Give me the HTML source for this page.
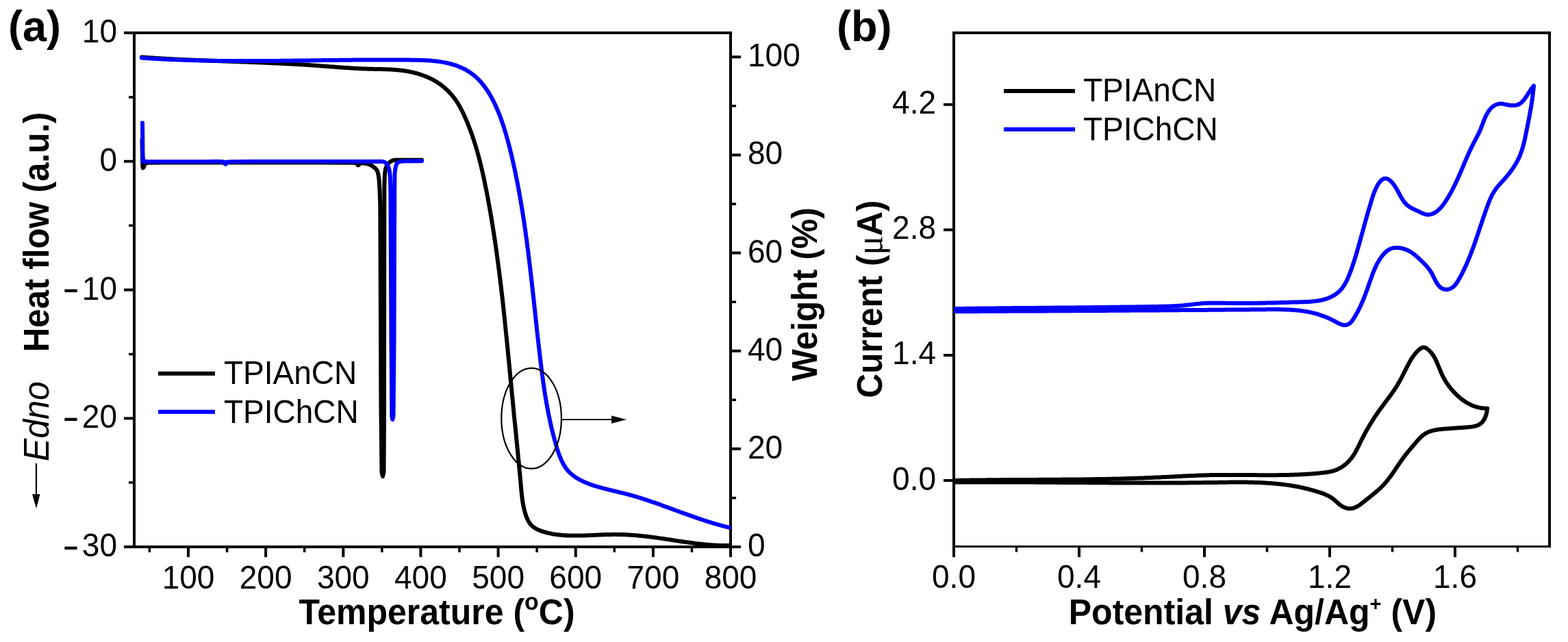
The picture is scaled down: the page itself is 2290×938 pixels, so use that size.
<!DOCTYPE html>
<html><head><meta charset="utf-8"><title>Figure</title>
<style>
html,body{margin:0;padding:0;background:#fff;}
svg{display:block;}
.minus{font-size:46px;}
</style></head><body>
<svg width="2290" height="938" viewBox="0 0 2290 938">
<rect width="2290" height="938" fill="#fff"/>
<g stroke="#000" stroke-width="4" fill="none" stroke-linecap="butt">
<path d="M181 48 H1067 M196 46 V801 M181 799 H1082 M1067 46 V814"/>
</g>
<path stroke="#000" stroke-width="4" d="M275.0 801 V814 M388.1 801 V814 M501.3 801 V814 M614.4 801 V814 M727.6 801 V814 M840.7 801 V814 M953.9 801 V814 M1067.0 801 V814"/>
<path stroke="#000" stroke-width="3.5" d="M218.4 801 V807 M331.6 801 V807 M444.7 801 V807 M557.9 801 V807 M671.0 801 V807 M784.1 801 V807 M897.3 801 V807 M1010.4 801 V807"/>
<path stroke="#000" stroke-width="4" d="M181 48.00 H194 M181 235.75 H194 M181 423.50 H194 M181 611.25 H194 M181 799.00 H194"/>
<path stroke="#000" stroke-width="3.5" d="M188 141.88 H194 M188 329.62 H194 M188 517.38 H194 M188 705.12 H194"/>
<path stroke="#000" stroke-width="4" d="M1069 799.00 H1082 M1069 655.86 H1082 M1069 512.72 H1082 M1069 369.58 H1082 M1069 226.44 H1082 M1069 83.30 H1082"/>
<path stroke="#000" stroke-width="3.5" d="M1069 727.43 H1075 M1069 584.29 H1075 M1069 441.15 H1075 M1069 298.01 H1075 M1069 154.87 H1075"/>
<g font-family="Liberation Sans, Arial, sans-serif" font-size="46" fill="#000">
<text transform="translate(275.0 860) scale(1 1.04)" text-anchor="middle">100</text>
<text transform="translate(388.1 860) scale(1 1.04)" text-anchor="middle">200</text>
<text transform="translate(501.3 860) scale(1 1.04)" text-anchor="middle">300</text>
<text transform="translate(614.4 860) scale(1 1.04)" text-anchor="middle">400</text>
<text transform="translate(727.6 860) scale(1 1.04)" text-anchor="middle">500</text>
<text transform="translate(840.7 860) scale(1 1.04)" text-anchor="middle">600</text>
<text transform="translate(953.9 860) scale(1 1.04)" text-anchor="middle">700</text>
<text transform="translate(1067.0 860) scale(1 1.04)" text-anchor="middle">800</text>
<text transform="translate(171 62.0) scale(1 1.04)" text-anchor="end">10</text>
<text transform="translate(171 249.8) scale(1 1.04)" text-anchor="end">0</text>
<text transform="translate(171 437.5) scale(1 1.04)" text-anchor="end">10</text>
<text transform="translate(92.4 445.00) scale(0.818 1.33)">&#8722;</text>
<text transform="translate(171 625.2) scale(1 1.04)" text-anchor="end">20</text>
<text transform="translate(92.4 632.75) scale(0.818 1.33)">&#8722;</text>
<text transform="translate(171 813.0) scale(1 1.04)" text-anchor="end">30</text>
<text transform="translate(92.4 820.50) scale(0.818 1.33)">&#8722;</text>
<text transform="translate(1092 813.0) scale(1 1.04)">0</text>
<text transform="translate(1092 669.9) scale(1 1.04)">20</text>
<text transform="translate(1092 526.7) scale(1 1.04)">40</text>
<text transform="translate(1092 383.6) scale(1 1.04)">60</text>
<text transform="translate(1092 240.4) scale(1 1.04)">80</text>
<text transform="translate(1092 97.3) scale(1 1.04)">100</text>
</g>
<text transform="translate(638 912) scale(1 1.04)" text-anchor="middle" font-family="Liberation Sans, Arial, sans-serif" font-weight="bold" font-size="50">Temperature (<tspan font-size="34" dy="-20">o</tspan><tspan dy="20">C)</tspan></text>
<text transform="translate(71 339) rotate(-90) scale(1 1.04)" text-anchor="middle" font-family="Liberation Sans, Arial, sans-serif" font-weight="bold" font-size="49.3">Heat flow (a.u.)</text>
<text transform="translate(1193 430) rotate(-90) scale(1 1.04)" text-anchor="middle" font-family="Liberation Sans, Arial, sans-serif" font-weight="bold" font-size="49.3">Weight (%)</text>
<text transform="translate(70.5 615.6) rotate(-90) scale(1 1.04)" text-anchor="middle" font-family="Liberation Sans, Arial, sans-serif" font-style="italic" font-size="50">Edno</text>
<path d="M53 677 V724" stroke="#000" stroke-width="2.2"/>
<path d="M47 722 L58.5 722 L53 743 Z" fill="#000"/>
<text x="12" y="60" font-family="Liberation Sans, Arial, sans-serif" font-weight="bold" font-size="63">(a)</text>
<path d="M231 545.8 H314" stroke="#000" stroke-width="6"/>
<path d="M231 601.8 H314" stroke="#0000ff" stroke-width="6"/>
<g font-family="Liberation Sans, Arial, sans-serif" font-size="46">
<text transform="translate(327 561) scale(1 1.04)">TPIAnCN</text>
<text transform="translate(327 618) scale(1 1.04)">TPIChCN</text>
</g>
<g fill="none" stroke-linejoin="round" stroke-linecap="round" stroke-width="6">
<path stroke="#000" d="M207.0 83.5 L208.5 83.6 L210.0 83.7 L211.5 83.8 L213.0 83.9 L214.5 84.0 L216.0 84.1 L217.5 84.2 L219.0 84.3 L220.5 84.4 L222.0 84.5 L223.5 84.6 L225.0 84.7 L226.5 84.8 L228.0 84.9 L229.5 85.0 L231.0 85.1 L232.5 85.2 L234.0 85.3 L235.5 85.4 L237.0 85.5 L238.5 85.6 L240.0 85.6 L241.5 85.7 L243.0 85.8 L244.5 85.9 L246.0 86.0 L247.5 86.1 L249.0 86.1 L250.5 86.2 L252.0 86.3 L253.5 86.4 L255.0 86.4 L256.5 86.5 L258.0 86.6 L259.5 86.7 L261.0 86.7 L262.5 86.8 L264.0 86.9 L265.5 87.0 L267.0 87.0 L268.5 87.1 L270.0 87.2 L271.5 87.2 L273.0 87.3 L274.5 87.4 L276.0 87.4 L277.5 87.5 L279.0 87.6 L280.5 87.6 L282.0 87.7 L283.5 87.8 L285.0 87.8 L286.5 87.9 L288.0 88.0 L289.5 88.0 L291.0 88.1 L292.5 88.1 L294.0 88.2 L295.5 88.3 L297.0 88.3 L298.5 88.4 L300.0 88.4 L301.5 88.5 L303.0 88.6 L304.5 88.6 L306.0 88.7 L307.5 88.7 L309.0 88.8 L310.5 88.8 L312.0 88.9 L313.5 88.9 L315.0 89.0 L316.5 89.1 L318.0 89.1 L319.5 89.2 L321.0 89.2 L322.6 89.3 L324.1 89.3 L325.6 89.4 L327.1 89.4 L328.6 89.5 L330.1 89.6 L331.6 89.6 L333.1 89.7 L334.6 89.7 L336.1 89.8 L337.6 89.8 L339.1 89.9 L340.6 89.9 L342.1 90.0 L343.6 90.0 L345.1 90.1 L346.6 90.1 L348.1 90.2 L349.6 90.3 L351.1 90.3 L352.6 90.4 L354.1 90.4 L355.6 90.5 L357.1 90.5 L358.6 90.6 L360.1 90.6 L361.6 90.7 L363.1 90.8 L364.6 90.8 L366.1 90.9 L367.6 90.9 L369.1 91.0 L370.6 91.0 L372.1 91.1 L373.6 91.2 L375.1 91.2 L376.6 91.3 L378.1 91.3 L379.6 91.4 L381.1 91.5 L382.6 91.5 L384.1 91.6 L385.6 91.6 L387.1 91.7 L388.6 91.8 L390.1 91.8 L391.6 91.9 L393.1 92.0 L394.6 92.0 L396.1 92.1 L397.6 92.2 L399.1 92.2 L400.6 92.3 L402.1 92.4 L403.6 92.4 L405.1 92.5 L406.6 92.6 L408.1 92.6 L409.6 92.7 L411.1 92.8 L412.6 92.9 L414.1 92.9 L415.6 93.0 L417.1 93.1 L418.6 93.2 L420.1 93.2 L421.6 93.3 L423.1 93.4 L424.6 93.5 L426.1 93.6 L427.6 93.6 L429.1 93.7 L430.6 93.8 L432.1 93.9 L433.6 94.0 L435.1 94.1 L436.6 94.2 L438.1 94.2 L439.6 94.3 L441.1 94.4 L442.6 94.5 L444.1 94.6 L445.6 94.7 L447.1 94.8 L448.6 94.9 L450.1 95.0 L451.6 95.1 L453.1 95.2 L454.6 95.3 L456.1 95.4 L457.6 95.5 L459.1 95.6 L460.6 95.7 L462.1 95.8 L463.6 95.9 L465.1 96.0 L466.6 96.1 L468.1 96.3 L469.6 96.4 L471.1 96.5 L472.6 96.6 L474.1 96.7 L475.6 96.8 L477.1 96.9 L478.6 97.0 L480.1 97.2 L481.6 97.3 L483.1 97.4 L484.6 97.5 L486.1 97.6 L487.6 97.7 L489.1 97.8 L490.6 97.9 L492.1 98.1 L493.6 98.2 L495.1 98.3 L496.6 98.4 L498.1 98.5 L499.6 98.6 L501.1 98.7 L502.6 98.8 L504.1 98.9 L505.6 99.0 L507.0 99.1 L508.5 99.2 L510.0 99.3 L511.5 99.4 L513.0 99.5 L514.5 99.6 L516.0 99.7 L517.5 99.8 L519.0 99.9 L520.5 99.9 L522.0 100.0 L523.5 100.1 L525.0 100.2 L526.5 100.2 L528.0 100.3 L529.5 100.4 L531.0 100.4 L532.5 100.5 L534.0 100.5 L535.5 100.6 L537.0 100.7 L538.5 100.7 L540.0 100.7 L541.5 100.8 L543.0 100.8 L544.5 100.8 L546.0 100.9 L547.5 100.9 L549.0 100.9 L550.5 101.0 L552.0 101.0 L553.5 101.0 L555.0 101.1 L556.5 101.1 L558.0 101.1 L559.5 101.2 L561.0 101.2 L562.5 101.2 L564.0 101.3 L565.5 101.3 L567.0 101.4 L568.5 101.5 L570.0 101.5 L571.5 101.6 L573.0 101.7 L574.5 101.8 L576.0 101.9 L577.5 102.0 L579.0 102.1 L580.5 102.3 L582.0 102.4 L583.5 102.5 L585.0 102.7 L586.5 102.9 L588.0 103.1 L589.5 103.3 L591.0 103.5 L592.5 103.7 L594.0 104.0 L595.4 104.2 L596.9 104.5 L598.4 104.8 L599.9 105.1 L601.4 105.4 L602.9 105.7 L604.3 106.1 L605.8 106.5 L607.3 106.8 L608.7 107.2 L610.2 107.7 L611.6 108.1 L613.1 108.5 L614.5 109.0 L615.9 109.5 L617.4 110.0 L618.8 110.5 L620.2 111.0 L621.6 111.6 L623.0 112.1 L624.3 112.7 L625.7 113.3 L627.1 114.0 L628.4 114.6 L629.8 115.3 L631.1 115.9 L632.4 116.6 L633.7 117.4 L635.0 118.1 L636.3 118.8 L637.6 119.6 L638.9 120.4 L640.1 121.2 L641.3 122.1 L642.6 122.9 L643.8 123.8 L645.0 124.7 L646.1 125.6 L647.3 126.6 L648.4 127.5 L649.6 128.5 L650.7 129.5 L651.8 130.5 L652.9 131.5 L654.0 132.5 L655.0 133.6 L656.1 134.7 L657.1 135.8 L658.1 136.9 L659.1 138.0 L660.1 139.1 L661.0 140.3 L662.0 141.5 L662.9 142.6 L663.8 143.8 L664.7 145.0 L665.6 146.3 L666.4 147.5 L667.2 148.8 L668.1 150.0 L668.9 151.3 L669.7 152.6 L670.4 153.9 L671.2 155.2 L671.9 156.5 L672.6 157.8 L673.3 159.2 L674.0 160.5 L674.7 161.9 L675.4 163.2 L676.0 164.6 L676.7 166.0 L677.3 167.3 L678.0 168.7 L678.6 170.1 L679.2 171.5 L679.8 172.8 L680.4 174.2 L681.0 175.6 L681.6 177.0 L682.2 178.4 L682.8 179.8 L683.3 181.2 L683.9 182.6 L684.4 184.0 L685.0 185.4 L685.5 186.8 L686.1 188.2 L686.6 189.6 L687.1 191.0 L687.7 192.4 L688.2 193.8 L688.7 195.2 L689.2 196.6 L689.7 198.1 L690.2 199.5 L690.6 200.9 L691.1 202.3 L691.6 203.7 L692.1 205.2 L692.5 206.6 L693.0 208.0 L693.4 209.4 L693.9 210.9 L694.3 212.3 L694.8 213.7 L695.2 215.2 L695.6 216.6 L696.0 218.1 L696.5 219.5 L696.9 220.9 L697.3 222.4 L697.7 223.8 L698.1 225.3 L698.5 226.7 L698.9 228.2 L699.3 229.6 L699.6 231.1 L700.0 232.5 L700.4 234.0 L700.8 235.4 L701.1 236.9 L701.5 238.3 L701.9 239.8 L702.2 241.2 L702.6 242.7 L702.9 244.2 L703.3 245.6 L703.6 247.1 L704.0 248.5 L704.3 250.0 L704.6 251.5 L705.0 252.9 L705.3 254.4 L705.6 255.9 L705.9 257.3 L706.3 258.8 L706.6 260.3 L706.9 261.7 L707.2 263.2 L707.5 264.7 L707.8 266.1 L708.1 267.6 L708.4 269.1 L708.7 270.6 L709.0 272.0 L709.3 273.5 L709.6 275.0 L709.9 276.4 L710.2 277.9 L710.5 279.4 L710.8 280.9 L711.1 282.3 L711.3 283.8 L711.6 285.3 L711.9 286.8 L712.2 288.2 L712.5 289.7 L712.7 291.2 L713.0 292.7 L713.3 294.1 L713.6 295.6 L713.8 297.1 L714.1 298.6 L714.4 300.1 L714.6 301.5 L714.9 303.0 L715.2 304.5 L715.4 306.0 L715.7 307.5 L715.9 308.9 L716.2 310.4 L716.4 311.9 L716.7 313.4 L717.0 314.9 L717.2 316.3 L717.5 317.8 L717.7 319.3 L718.0 320.8 L718.2 322.3 L718.4 323.7 L718.7 325.2 L718.9 326.7 L719.2 328.2 L719.4 329.7 L719.6 331.2 L719.9 332.6 L720.1 334.1 L720.4 335.6 L720.6 337.1 L720.8 338.6 L721.1 340.1 L721.3 341.5 L721.5 343.0 L721.7 344.5 L722.0 346.0 L722.2 347.5 L722.4 349.0 L722.6 350.5 L722.9 351.9 L723.1 353.4 L723.3 354.9 L723.5 356.4 L723.7 357.9 L723.9 359.4 L724.2 360.9 L724.4 362.3 L724.6 363.8 L724.8 365.3 L725.0 366.8 L725.2 368.3 L725.4 369.8 L725.6 371.3 L725.8 372.8 L726.0 374.3 L726.2 375.7 L726.4 377.2 L726.6 378.7 L726.8 380.2 L727.0 381.7 L727.2 383.2 L727.4 384.7 L727.6 386.2 L727.8 387.7 L728.0 389.2 L728.2 390.6 L728.4 392.1 L728.6 393.6 L728.8 395.1 L729.0 396.6 L729.2 398.1 L729.4 399.6 L729.5 401.1 L729.7 402.6 L729.9 404.1 L730.1 405.6 L730.3 407.1 L730.5 408.5 L730.6 410.0 L730.8 411.5 L731.0 413.0 L731.2 414.5 L731.4 416.0 L731.5 417.5 L731.7 419.0 L731.9 420.5 L732.1 422.0 L732.2 423.5 L732.4 425.0 L732.6 426.5 L732.8 428.0 L732.9 429.4 L733.1 430.9 L733.3 432.4 L733.5 433.9 L733.6 435.4 L733.8 436.9 L734.0 438.4 L734.1 439.9 L734.3 441.4 L734.5 442.9 L734.6 444.4 L734.8 445.9 L735.0 447.4 L735.1 448.9 L735.3 450.4 L735.4 451.9 L735.6 453.4 L735.8 454.9 L735.9 456.4 L736.1 457.8 L736.2 459.3 L736.4 460.8 L736.6 462.3 L736.7 463.8 L736.9 465.3 L737.0 466.8 L737.2 468.3 L737.3 469.8 L737.5 471.3 L737.7 472.8 L737.8 474.3 L738.0 475.8 L738.1 477.3 L738.3 478.8 L738.4 480.3 L738.6 481.8 L738.7 483.3 L738.9 484.8 L739.0 486.3 L739.2 487.8 L739.3 489.3 L739.5 490.8 L739.6 492.2 L739.8 493.7 L739.9 495.2 L740.1 496.7 L740.2 498.2 L740.4 499.7 L740.5 501.2 L740.7 502.7 L740.8 504.2 L741.0 505.7 L741.1 507.2 L741.3 508.7 L741.4 510.2 L741.6 511.7 L741.7 513.2 L741.9 514.7 L742.0 516.2 L742.2 517.7 L742.3 519.2 L742.4 520.7 L742.6 522.2 L742.7 523.7 L742.9 525.2 L743.0 526.7 L743.2 528.2 L743.3 529.6 L743.5 531.1 L743.6 532.6 L743.7 534.1 L743.9 535.6 L744.0 537.1 L744.2 538.6 L744.3 540.1 L744.5 541.6 L744.6 543.1 L744.8 544.6 L744.9 546.1 L745.0 547.6 L745.2 549.1 L745.3 550.6 L745.5 552.1 L745.6 553.6 L745.8 555.1 L745.9 556.6 L746.1 558.1 L746.2 559.5 L746.3 561.0 L746.5 562.5 L746.6 564.0 L746.8 565.5 L746.9 567.0 L747.1 568.5 L747.2 570.0 L747.4 571.5 L747.5 573.0 L747.6 574.5 L747.8 576.0 L747.9 577.5 L748.1 579.0 L748.2 580.5 L748.4 581.9 L748.5 583.4 L748.7 584.9 L748.8 586.4 L749.0 587.9 L749.1 589.4 L749.3 590.9 L749.4 592.4 L749.6 593.9 L749.7 595.4 L749.8 596.9 L750.0 598.4 L750.1 599.9 L750.3 601.3 L750.4 602.8 L750.6 604.3 L750.7 605.8 L750.9 607.3 L751.0 608.8 L751.2 610.3 L751.3 611.8 L751.5 613.3 L751.6 614.8 L751.8 616.3 L751.9 617.8 L752.1 619.3 L752.2 620.7 L752.4 622.2 L752.5 623.7 L752.7 625.2 L752.8 626.7 L753.0 628.2 L753.1 629.7 L753.3 631.2 L753.4 632.7 L753.6 634.2 L753.7 635.7 L753.9 637.2 L754.0 638.7 L754.2 640.1 L754.3 641.6 L754.4 643.1 L754.6 644.6 L754.7 646.1 L754.9 647.6 L755.0 649.1 L755.2 650.6 L755.3 652.1 L755.5 653.6 L755.6 655.1 L755.8 656.6 L755.9 658.1 L756.1 659.6 L756.2 661.1 L756.4 662.6 L756.5 664.1 L756.6 665.6 L756.8 667.1 L756.9 668.6 L757.1 670.0 L757.2 671.5 L757.4 673.0 L757.5 674.5 L757.7 676.0 L757.8 677.5 L757.9 679.0 L758.1 680.5 L758.2 682.0 L758.4 683.5 L758.5 685.0 L758.6 686.5 L758.8 688.0 L758.9 689.5 L759.1 691.0 L759.2 692.5 L759.3 694.0 L759.5 695.5 L759.6 697.0 L759.8 698.5 L759.9 700.1 L760.0 701.6 L760.2 703.1 L760.3 704.6 L760.4 706.1 L760.6 707.6 L760.7 709.1 L760.8 710.6 L761.0 712.1 L761.1 713.6 L761.2 715.1 L761.4 716.6 L761.5 718.1 L761.7 719.6 L761.8 721.1 L762.0 722.6 L762.2 724.1 L762.3 725.6 L762.5 727.1 L762.7 728.6 L762.9 730.1 L763.1 731.6 L763.3 733.1 L763.6 734.6 L763.8 736.1 L764.1 737.6 L764.4 739.0 L764.7 740.5 L765.0 742.0 L765.3 743.4 L765.7 744.9 L766.1 746.4 L766.5 747.8 L766.9 749.3 L767.3 750.7 L767.8 752.2 L768.3 753.6 L768.8 755.0 L769.3 756.4 L769.9 757.8 L770.6 759.1 L771.2 760.4 L771.9 761.7 L772.7 763.0 L773.5 764.2 L774.3 765.3 L775.2 766.4 L776.2 767.5 L777.2 768.5 L778.3 769.4 L779.4 770.3 L780.6 771.1 L781.8 771.9 L783.1 772.6 L784.4 773.3 L785.8 773.9 L787.1 774.5 L788.5 775.1 L789.9 775.6 L791.4 776.1 L792.8 776.6 L794.3 777.0 L795.7 777.5 L797.2 777.9 L798.6 778.3 L800.1 778.6 L801.6 779.0 L803.1 779.3 L804.5 779.6 L806.0 779.9 L807.5 780.2 L809.0 780.4 L810.5 780.7 L812.0 780.9 L813.5 781.1 L815.0 781.3 L816.5 781.5 L818.0 781.6 L819.6 781.8 L821.1 781.9 L822.6 782.0 L824.1 782.1 L825.6 782.2 L827.1 782.3 L828.7 782.4 L830.2 782.4 L831.7 782.5 L833.2 782.5 L834.7 782.6 L836.2 782.6 L837.8 782.6 L839.3 782.6 L840.8 782.6 L842.3 782.6 L843.8 782.6 L845.3 782.6 L846.8 782.6 L848.3 782.5 L849.8 782.5 L851.3 782.5 L852.8 782.4 L854.3 782.4 L855.8 782.3 L857.3 782.3 L858.8 782.2 L860.3 782.1 L861.8 782.1 L863.3 782.0 L864.8 781.9 L866.3 781.9 L867.8 781.8 L869.3 781.7 L870.8 781.7 L872.3 781.6 L873.7 781.5 L875.2 781.5 L876.7 781.4 L878.2 781.3 L879.7 781.3 L881.2 781.2 L882.7 781.2 L884.2 781.1 L885.7 781.1 L887.2 781.0 L888.6 781.0 L890.1 780.9 L891.6 780.9 L893.1 780.9 L894.6 780.9 L896.1 780.8 L897.6 780.8 L899.1 780.8 L900.6 780.8 L902.1 780.9 L903.6 780.9 L905.1 780.9 L906.6 780.9 L908.1 781.0 L909.6 781.0 L911.1 781.1 L912.6 781.1 L914.1 781.2 L915.6 781.3 L917.1 781.4 L918.6 781.5 L920.1 781.6 L921.6 781.7 L923.1 781.8 L924.6 781.9 L926.1 782.0 L927.6 782.1 L929.1 782.2 L930.6 782.4 L932.1 782.5 L933.6 782.7 L935.1 782.8 L936.6 783.0 L938.1 783.1 L939.6 783.3 L941.1 783.4 L942.6 783.6 L944.1 783.8 L945.6 784.0 L947.1 784.2 L948.6 784.3 L950.1 784.5 L951.6 784.7 L953.1 784.9 L954.6 785.1 L956.1 785.3 L957.6 785.5 L959.1 785.7 L960.6 785.9 L962.1 786.1 L963.6 786.4 L965.0 786.6 L966.5 786.8 L968.0 787.0 L969.5 787.2 L971.0 787.4 L972.5 787.7 L974.0 787.9 L975.5 788.1 L976.9 788.3 L978.4 788.6 L979.9 788.8 L981.4 789.0 L982.9 789.2 L984.4 789.5 L985.9 789.7 L987.3 789.9 L988.8 790.2 L990.3 790.4 L991.8 790.6 L993.3 790.8 L994.8 791.0 L996.2 791.3 L997.7 791.5 L999.2 791.7 L1000.7 791.9 L1002.2 792.1 L1003.7 792.3 L1005.1 792.5 L1006.6 792.7 L1008.1 793.0 L1009.6 793.1 L1011.1 793.3 L1012.6 793.5 L1014.0 793.7 L1015.5 793.9 L1017.0 794.1 L1018.5 794.3 L1020.0 794.5 L1021.5 794.6 L1023.0 794.8 L1024.5 795.0 L1026.0 795.1 L1027.4 795.3 L1028.9 795.4 L1030.4 795.6 L1031.9 795.7 L1033.4 795.8 L1034.9 796.0 L1036.4 796.1 L1037.9 796.2 L1039.4 796.3 L1040.9 796.4 L1042.4 796.5 L1043.9 796.6 L1045.4 796.7 L1046.9 796.7 L1048.4 796.8 L1049.9 796.9 L1051.4 796.9 L1052.9 797.0 L1054.4 797.0 L1055.9 797.0 L1057.5 797.1 L1059.0 797.1 L1060.5 797.1 L1062.0 797.1 L1063.5 797.1 L1065.0 797.1"/>
<path stroke="#0000ff" d="M207.0 84.6 L208.5 84.7 L210.0 84.8 L211.5 84.9 L213.0 85.0 L214.5 85.1 L216.0 85.2 L217.5 85.3 L219.0 85.4 L220.5 85.5 L222.0 85.6 L223.5 85.7 L225.0 85.7 L226.5 85.8 L228.0 85.9 L229.5 86.0 L231.0 86.1 L232.5 86.2 L234.0 86.2 L235.5 86.3 L237.0 86.4 L238.5 86.5 L240.0 86.5 L241.5 86.6 L243.0 86.7 L244.5 86.8 L246.0 86.8 L247.5 86.9 L249.0 87.0 L250.5 87.0 L252.0 87.1 L253.5 87.2 L255.0 87.2 L256.5 87.3 L258.0 87.3 L259.5 87.4 L261.0 87.5 L262.5 87.5 L264.0 87.6 L265.5 87.6 L267.0 87.7 L268.5 87.7 L270.0 87.8 L271.5 87.8 L273.0 87.9 L274.5 87.9 L276.0 88.0 L277.5 88.0 L279.0 88.1 L280.5 88.1 L282.0 88.1 L283.5 88.2 L285.0 88.2 L286.5 88.3 L288.0 88.3 L289.5 88.3 L291.0 88.4 L292.5 88.4 L294.0 88.4 L295.5 88.5 L297.0 88.5 L298.5 88.5 L300.0 88.6 L301.5 88.6 L303.0 88.6 L304.5 88.7 L306.0 88.7 L307.5 88.7 L309.1 88.7 L310.6 88.8 L312.1 88.8 L313.6 88.8 L315.1 88.8 L316.6 88.8 L318.1 88.9 L319.6 88.9 L321.1 88.9 L322.6 88.9 L324.1 88.9 L325.6 88.9 L327.1 89.0 L328.6 89.0 L330.1 89.0 L331.6 89.0 L333.1 89.0 L334.6 89.0 L336.1 89.0 L337.6 89.0 L339.1 89.1 L340.6 89.1 L342.1 89.1 L343.6 89.1 L345.1 89.1 L346.6 89.1 L348.1 89.1 L349.6 89.1 L351.1 89.1 L352.6 89.1 L354.1 89.1 L355.6 89.1 L357.1 89.1 L358.6 89.1 L360.1 89.1 L361.6 89.1 L363.1 89.1 L364.6 89.1 L366.1 89.1 L367.6 89.1 L369.1 89.1 L370.6 89.1 L372.1 89.1 L373.6 89.1 L375.1 89.1 L376.7 89.1 L378.2 89.1 L379.7 89.1 L381.2 89.1 L382.7 89.0 L384.2 89.0 L385.7 89.0 L387.2 89.0 L388.7 89.0 L390.2 89.0 L391.7 89.0 L393.2 89.0 L394.7 89.0 L396.2 89.0 L397.7 88.9 L399.2 88.9 L400.7 88.9 L402.2 88.9 L403.7 88.9 L405.2 88.9 L406.7 88.9 L408.2 88.9 L409.7 88.8 L411.2 88.8 L412.7 88.8 L414.2 88.8 L415.7 88.8 L417.2 88.8 L418.7 88.8 L420.2 88.7 L421.7 88.7 L423.2 88.7 L424.7 88.7 L426.2 88.7 L427.7 88.7 L429.2 88.6 L430.7 88.6 L432.2 88.6 L433.8 88.6 L435.3 88.6 L436.8 88.5 L438.3 88.5 L439.8 88.5 L441.3 88.5 L442.8 88.5 L444.3 88.5 L445.8 88.4 L447.3 88.4 L448.8 88.4 L450.3 88.4 L451.8 88.4 L453.3 88.3 L454.8 88.3 L456.3 88.3 L457.8 88.3 L459.3 88.3 L460.8 88.2 L462.3 88.2 L463.8 88.2 L465.3 88.2 L466.8 88.2 L468.3 88.2 L469.8 88.1 L471.3 88.1 L472.8 88.1 L474.3 88.1 L475.8 88.1 L477.3 88.0 L478.8 88.0 L480.3 88.0 L481.8 88.0 L483.3 88.0 L484.8 88.0 L486.3 87.9 L487.8 87.9 L489.3 87.9 L490.8 87.9 L492.4 87.9 L493.9 87.9 L495.4 87.8 L496.9 87.8 L498.4 87.8 L499.9 87.8 L501.4 87.8 L502.9 87.8 L504.4 87.7 L505.9 87.7 L507.4 87.7 L508.9 87.7 L510.4 87.7 L511.9 87.7 L513.4 87.7 L514.9 87.6 L516.4 87.6 L517.9 87.6 L519.4 87.6 L520.9 87.6 L522.4 87.6 L523.9 87.6 L525.4 87.6 L526.9 87.6 L528.4 87.5 L529.9 87.5 L531.4 87.5 L532.9 87.5 L534.4 87.5 L535.9 87.5 L537.4 87.5 L538.9 87.5 L540.4 87.5 L541.9 87.5 L543.4 87.5 L544.9 87.5 L546.4 87.5 L547.9 87.5 L549.4 87.5 L550.9 87.5 L552.4 87.5 L553.9 87.5 L555.4 87.4 L556.9 87.4 L558.4 87.4 L559.9 87.4 L561.4 87.4 L562.9 87.4 L564.4 87.5 L565.9 87.5 L567.4 87.5 L568.9 87.5 L570.4 87.5 L572.0 87.5 L573.5 87.5 L575.0 87.5 L576.5 87.5 L578.0 87.5 L579.5 87.5 L581.0 87.5 L582.5 87.5 L584.0 87.5 L585.5 87.5 L587.0 87.5 L588.5 87.5 L590.0 87.6 L591.5 87.6 L593.0 87.6 L594.5 87.6 L596.0 87.6 L597.5 87.6 L599.0 87.6 L600.5 87.7 L602.0 87.7 L603.5 87.7 L605.0 87.7 L606.5 87.7 L608.0 87.8 L609.5 87.8 L611.0 87.8 L612.5 87.8 L614.0 87.9 L615.5 87.9 L617.0 88.0 L618.5 88.0 L620.0 88.1 L621.5 88.2 L623.0 88.2 L624.5 88.3 L626.0 88.4 L627.5 88.5 L629.0 88.6 L630.5 88.8 L632.0 88.9 L633.5 89.0 L635.0 89.2 L636.5 89.3 L638.0 89.5 L639.5 89.7 L641.0 89.9 L642.5 90.1 L644.0 90.4 L645.5 90.6 L646.9 90.9 L648.4 91.1 L649.9 91.4 L651.4 91.7 L652.9 92.0 L654.4 92.4 L655.9 92.7 L657.3 93.1 L658.8 93.5 L660.2 93.9 L661.7 94.3 L663.1 94.8 L664.6 95.2 L666.0 95.7 L667.4 96.2 L668.8 96.8 L670.2 97.3 L671.6 97.9 L673.0 98.4 L674.4 99.1 L675.7 99.7 L677.1 100.3 L678.4 101.0 L679.7 101.7 L681.0 102.4 L682.3 103.2 L683.6 104.0 L684.8 104.8 L686.1 105.6 L687.3 106.4 L688.5 107.3 L689.7 108.2 L690.9 109.1 L692.0 110.0 L693.2 110.9 L694.3 111.9 L695.4 112.9 L696.5 113.9 L697.6 114.9 L698.7 116.0 L699.7 117.0 L700.7 118.1 L701.7 119.2 L702.7 120.3 L703.7 121.5 L704.6 122.6 L705.6 123.8 L706.5 125.0 L707.4 126.2 L708.3 127.4 L709.2 128.6 L710.0 129.8 L710.9 131.1 L711.7 132.3 L712.5 133.6 L713.4 134.8 L714.1 136.1 L714.9 137.4 L715.7 138.7 L716.5 140.0 L717.2 141.3 L717.9 142.6 L718.6 143.9 L719.4 145.3 L720.1 146.6 L720.7 148.0 L721.4 149.3 L722.1 150.7 L722.7 152.0 L723.4 153.4 L724.0 154.8 L724.6 156.2 L725.2 157.6 L725.8 158.9 L726.4 160.3 L727.0 161.7 L727.6 163.1 L728.2 164.5 L728.7 165.9 L729.3 167.3 L729.8 168.8 L730.4 170.2 L730.9 171.6 L731.4 173.0 L731.9 174.4 L732.4 175.8 L732.9 177.2 L733.4 178.7 L733.9 180.1 L734.4 181.5 L734.9 182.9 L735.3 184.4 L735.8 185.8 L736.3 187.2 L736.7 188.6 L737.2 190.1 L737.6 191.5 L738.0 192.9 L738.5 194.4 L738.9 195.8 L739.3 197.2 L739.7 198.7 L740.1 200.1 L740.5 201.6 L740.9 203.0 L741.3 204.4 L741.7 205.9 L742.1 207.3 L742.5 208.8 L742.9 210.2 L743.2 211.7 L743.6 213.1 L744.0 214.6 L744.4 216.0 L744.7 217.5 L745.1 218.9 L745.4 220.4 L745.8 221.8 L746.2 223.3 L746.5 224.8 L746.9 226.2 L747.2 227.7 L747.5 229.1 L747.9 230.6 L748.2 232.0 L748.6 233.5 L748.9 235.0 L749.2 236.4 L749.6 237.9 L749.9 239.4 L750.2 240.8 L750.5 242.3 L750.8 243.8 L751.2 245.2 L751.5 246.7 L751.8 248.2 L752.1 249.6 L752.4 251.1 L752.7 252.6 L753.0 254.1 L753.3 255.5 L753.6 257.0 L753.9 258.5 L754.2 259.9 L754.5 261.4 L754.8 262.9 L755.1 264.4 L755.4 265.8 L755.7 267.3 L756.0 268.8 L756.2 270.3 L756.5 271.7 L756.8 273.2 L757.1 274.7 L757.4 276.2 L757.6 277.7 L757.9 279.1 L758.2 280.6 L758.4 282.1 L758.7 283.6 L759.0 285.1 L759.2 286.5 L759.5 288.0 L759.8 289.5 L760.0 291.0 L760.3 292.5 L760.5 293.9 L760.8 295.4 L761.0 296.9 L761.3 298.4 L761.5 299.9 L761.8 301.4 L762.0 302.8 L762.2 304.3 L762.5 305.8 L762.7 307.3 L763.0 308.8 L763.2 310.3 L763.4 311.8 L763.7 313.2 L763.9 314.7 L764.1 316.2 L764.4 317.7 L764.6 319.2 L764.8 320.7 L765.0 322.2 L765.3 323.6 L765.5 325.1 L765.7 326.6 L765.9 328.1 L766.1 329.6 L766.4 331.1 L766.6 332.6 L766.8 334.1 L767.0 335.5 L767.2 337.0 L767.4 338.5 L767.6 340.0 L767.8 341.5 L768.0 343.0 L768.2 344.5 L768.5 346.0 L768.7 347.5 L768.9 348.9 L769.1 350.4 L769.3 351.9 L769.5 353.4 L769.7 354.9 L769.8 356.4 L770.0 357.9 L770.2 359.4 L770.4 360.9 L770.6 362.4 L770.8 363.8 L771.0 365.3 L771.2 366.8 L771.4 368.3 L771.6 369.8 L771.8 371.3 L771.9 372.8 L772.1 374.3 L772.3 375.8 L772.5 377.3 L772.7 378.8 L772.9 380.3 L773.0 381.8 L773.2 383.2 L773.4 384.7 L773.6 386.2 L773.8 387.7 L773.9 389.2 L774.1 390.7 L774.3 392.2 L774.5 393.7 L774.6 395.2 L774.8 396.7 L775.0 398.2 L775.2 399.7 L775.3 401.2 L775.5 402.7 L775.7 404.2 L775.8 405.6 L776.0 407.1 L776.2 408.6 L776.4 410.1 L776.5 411.6 L776.7 413.1 L776.9 414.6 L777.0 416.1 L777.2 417.6 L777.4 419.1 L777.5 420.6 L777.7 422.1 L777.9 423.6 L778.0 425.1 L778.2 426.6 L778.4 428.1 L778.5 429.5 L778.7 431.0 L778.8 432.5 L779.0 434.0 L779.2 435.5 L779.3 437.0 L779.5 438.5 L779.7 440.0 L779.8 441.5 L780.0 443.0 L780.1 444.5 L780.3 446.0 L780.5 447.5 L780.6 449.0 L780.8 450.5 L781.0 452.0 L781.1 453.5 L781.3 454.9 L781.4 456.4 L781.6 457.9 L781.8 459.4 L781.9 460.9 L782.1 462.4 L782.2 463.9 L782.4 465.4 L782.6 466.9 L782.7 468.4 L782.9 469.9 L783.0 471.4 L783.2 472.9 L783.4 474.4 L783.5 475.8 L783.7 477.3 L783.9 478.8 L784.0 480.3 L784.2 481.8 L784.4 483.3 L784.5 484.8 L784.7 486.3 L784.8 487.8 L785.0 489.3 L785.2 490.8 L785.3 492.3 L785.5 493.7 L785.7 495.2 L785.8 496.7 L786.0 498.2 L786.2 499.7 L786.3 501.2 L786.5 502.7 L786.7 504.2 L786.8 505.7 L787.0 507.2 L787.2 508.7 L787.4 510.1 L787.5 511.6 L787.7 513.1 L787.9 514.6 L788.0 516.1 L788.2 517.6 L788.4 519.1 L788.6 520.6 L788.7 522.1 L788.9 523.5 L789.1 525.0 L789.3 526.5 L789.5 528.0 L789.6 529.5 L789.8 531.0 L790.0 532.5 L790.2 534.0 L790.4 535.4 L790.5 536.9 L790.7 538.4 L790.9 539.9 L791.1 541.4 L791.3 542.9 L791.5 544.4 L791.7 545.8 L791.9 547.3 L792.1 548.8 L792.3 550.3 L792.5 551.8 L792.7 553.3 L792.9 554.7 L793.1 556.2 L793.3 557.7 L793.5 559.2 L793.7 560.7 L793.9 562.2 L794.1 563.6 L794.3 565.1 L794.6 566.6 L794.8 568.1 L795.0 569.6 L795.2 571.1 L795.5 572.5 L795.7 574.0 L795.9 575.5 L796.2 577.0 L796.4 578.5 L796.6 579.9 L796.9 581.4 L797.1 582.9 L797.4 584.4 L797.6 585.9 L797.9 587.3 L798.1 588.8 L798.4 590.3 L798.7 591.8 L798.9 593.2 L799.2 594.7 L799.5 596.2 L799.7 597.7 L800.0 599.2 L800.3 600.6 L800.6 602.1 L800.9 603.6 L801.2 605.1 L801.5 606.5 L801.8 608.0 L802.1 609.5 L802.4 611.0 L802.7 612.4 L803.0 613.9 L803.3 615.4 L803.6 616.9 L804.0 618.3 L804.3 619.8 L804.6 621.3 L805.0 622.8 L805.3 624.2 L805.7 625.7 L806.0 627.2 L806.4 628.7 L806.7 630.1 L807.1 631.6 L807.5 633.1 L807.8 634.5 L808.2 636.0 L808.6 637.5 L809.0 639.0 L809.4 640.4 L809.8 641.9 L810.2 643.4 L810.6 644.8 L811.0 646.3 L811.4 647.8 L811.8 649.2 L812.2 650.7 L812.7 652.2 L813.1 653.7 L813.5 655.1 L814.0 656.6 L814.5 658.0 L814.9 659.5 L815.4 660.9 L815.9 662.4 L816.4 663.8 L816.9 665.2 L817.5 666.6 L818.0 668.0 L818.6 669.4 L819.2 670.8 L819.8 672.1 L820.4 673.5 L821.1 674.8 L821.7 676.1 L822.4 677.4 L823.1 678.7 L823.9 679.9 L824.6 681.2 L825.4 682.4 L826.2 683.6 L827.1 684.7 L828.0 685.9 L828.9 687.0 L829.8 688.1 L830.8 689.1 L831.8 690.1 L832.8 691.1 L833.9 692.1 L834.9 693.1 L836.1 694.0 L837.2 694.9 L838.4 695.8 L839.6 696.6 L840.8 697.4 L842.0 698.2 L843.3 699.0 L844.6 699.8 L845.9 700.5 L847.2 701.2 L848.6 701.9 L849.9 702.6 L851.3 703.2 L852.7 703.9 L854.1 704.5 L855.5 705.1 L856.9 705.7 L858.3 706.2 L859.8 706.8 L861.2 707.3 L862.7 707.8 L864.1 708.3 L865.6 708.8 L867.1 709.3 L868.5 709.8 L870.0 710.3 L871.5 710.7 L872.9 711.2 L874.4 711.6 L875.9 712.0 L877.3 712.4 L878.8 712.8 L880.3 713.2 L881.7 713.6 L883.2 714.0 L884.7 714.4 L886.1 714.7 L887.6 715.1 L889.1 715.5 L890.5 715.8 L892.0 716.2 L893.5 716.5 L894.9 716.9 L896.4 717.2 L897.8 717.6 L899.3 717.9 L900.8 718.3 L902.2 718.6 L903.7 719.0 L905.1 719.3 L906.6 719.7 L908.0 720.0 L909.5 720.4 L910.9 720.7 L912.4 721.1 L913.8 721.5 L915.3 721.8 L916.7 722.2 L918.2 722.6 L919.6 723.0 L921.1 723.4 L922.5 723.8 L923.9 724.2 L925.4 724.6 L926.8 725.0 L928.2 725.5 L929.7 725.9 L931.1 726.3 L932.5 726.8 L934.0 727.2 L935.4 727.6 L936.8 728.1 L938.2 728.5 L939.7 729.0 L941.1 729.5 L942.5 729.9 L943.9 730.4 L945.3 730.9 L946.8 731.3 L948.2 731.8 L949.6 732.3 L951.0 732.8 L952.4 733.3 L953.9 733.8 L955.3 734.2 L956.7 734.7 L958.1 735.2 L959.5 735.7 L960.9 736.2 L962.3 736.7 L963.8 737.2 L965.2 737.7 L966.6 738.3 L968.0 738.8 L969.4 739.3 L970.8 739.8 L972.2 740.3 L973.6 740.8 L975.1 741.3 L976.5 741.8 L977.9 742.4 L979.3 742.9 L980.7 743.4 L982.1 743.9 L983.5 744.4 L984.9 745.0 L986.3 745.5 L987.8 746.0 L989.2 746.5 L990.6 747.0 L992.0 747.5 L993.4 748.1 L994.8 748.6 L996.2 749.1 L997.6 749.6 L999.1 750.1 L1000.5 750.6 L1001.9 751.1 L1003.3 751.6 L1004.7 752.1 L1006.1 752.7 L1007.6 753.2 L1009.0 753.7 L1010.4 754.2 L1011.8 754.7 L1013.2 755.2 L1014.7 755.7 L1016.1 756.1 L1017.5 756.6 L1018.9 757.1 L1020.3 757.6 L1021.8 758.1 L1023.2 758.6 L1024.6 759.0 L1026.1 759.5 L1027.5 760.0 L1028.9 760.5 L1030.3 760.9 L1031.8 761.4 L1033.2 761.8 L1034.6 762.3 L1036.1 762.7 L1037.5 763.2 L1038.9 763.6 L1040.4 764.1 L1041.8 764.5 L1043.3 764.9 L1044.7 765.3 L1046.1 765.8 L1047.6 766.2 L1049.0 766.6 L1050.5 767.0 L1051.9 767.4 L1053.4 767.8 L1054.8 768.2 L1056.3 768.6 L1057.7 768.9 L1059.2 769.3 L1060.6 769.7 L1062.1 770.1 L1063.5 770.4 L1065.0 770.8"/>
<path stroke="#000" d="M207.5 204.0 C207.6 207.5 207.8 218.3 208.0 225.0 C208.2 231.7 208.2 240.8 208.5 244.0 C208.8 247.2 209.4 244.8 210.0 244.0 C210.6 243.2 210.7 240.5 212.0 239.5 C213.3 238.5 210.0 238.1 218.0 237.8 C226.0 237.5 241.3 237.6 260.0 237.5 C278.7 237.4 306.7 237.5 330.0 237.5 C353.3 237.5 376.7 237.5 400.0 237.5 C423.3 237.5 450.8 237.5 470.0 237.6 C489.2 237.7 506.7 237.7 515.0 237.8 C523.3 238.0 518.6 237.9 520.0 238.5 C521.4 239.1 522.2 241.5 523.3 241.5 C524.4 241.5 525.2 239.0 526.5 238.5 C527.8 238.0 529.6 238.4 531.0 238.5 C532.4 238.6 533.3 238.6 535.0 239.0 C536.7 239.4 539.0 240.0 541.0 241.0 C543.0 242.0 545.2 243.3 547.0 245.0 C548.8 246.7 550.3 247.2 551.5 251.0 C552.7 254.8 553.4 259.8 554.0 268.0 C554.6 276.2 555.1 294.7 555.3 300.0 L556.5 600.0 L557.5 690.0 L559.0 696.0 L560.5 690.0 L561.0 600.0 L561.3 300.0 C561.3 294.2 561.2 273.8 561.5 265.0 C561.8 256.2 562.1 251.3 563.0 247.0 C563.9 242.7 565.3 241.0 567.0 239.0 C568.7 237.0 570.8 235.7 573.0 234.8 C575.2 233.9 575.5 234.0 580.0 233.8 C584.5 233.6 594.0 233.8 600.0 233.8 C606.0 233.8 613.3 233.8 616.0 233.8"/>
<path stroke="#0000ff" d="M208.0 179.5 C208.1 182.9 208.2 191.8 208.3 200.0 C208.4 208.2 208.2 223.2 208.7 229.0 C209.1 234.8 209.8 233.8 211.0 235.0 C212.2 236.2 201.2 236.0 216.0 236.2 C230.8 236.4 281.8 236.2 300.0 236.2 C318.2 236.2 320.1 235.7 325.0 236.3 C329.9 236.9 328.2 240.0 329.5 240.0 C330.8 240.0 321.2 237.2 333.0 236.5 C344.8 235.8 375.5 236.1 400.0 236.0 C424.5 235.9 456.7 236.0 480.0 236.0 C503.3 236.0 527.0 236.0 540.0 236.0 C553.0 236.0 554.2 235.7 558.0 236.0 C561.8 236.3 561.5 236.6 563.0 237.8 C564.5 239.0 565.9 240.1 567.0 243.0 C568.1 245.9 568.9 248.8 569.5 255.0 C570.1 261.2 570.2 275.8 570.4 280.0 L571.5 500.0 L572.3 608.0 L573.3 613.0 L574.5 608.0 L575.5 500.0 L576.2 280.0 C576.3 275.3 576.3 258.6 576.7 252.0 C577.1 245.4 577.8 243.1 578.8 240.5 C579.8 237.9 581.1 237.3 583.0 236.5 C584.9 235.7 584.5 235.7 590.0 235.5 C595.5 235.3 611.7 235.3 616.0 235.3"/>
</g>
<ellipse cx="776.1" cy="611.2" rx="43.8" ry="73.4" fill="none" stroke="#000" stroke-width="2.2"/>
<path d="M820.5 613 H897" stroke="#000" stroke-width="2.2"/>
<path d="M893 607.3 L915 613 L893 618.7 Z" fill="#000"/>
<g stroke="#000" fill="none">
<path stroke-width="4" d="M1391 48 H2265 M1393 46 V814 M2263 46 V800"/>
<path stroke-width="3" d="M1391 798.5 H2265"/>
</g>
<path stroke="#000" stroke-width="4" d="M1393.0 800 V814 M1576.0 800 V814 M1759.0 800 V814 M1942.0 800 V814 M2125.0 800 V814"/>
<path stroke="#000" stroke-width="3.5" d="M1484.5 800 V806.5 M1667.5 800 V806.5 M1850.5 800 V806.5 M2033.5 800 V806.5 M2216.5 800 V806.5"/>
<path stroke="#000" stroke-width="4" d="M1378 152.7 H1391 M1378 335.8 H1391 M1378 518.9 H1391 M1378 702.0 H1391"/>
<g font-family="Liberation Sans, Arial, sans-serif" font-size="46" fill="#000">
<text transform="translate(1393.0 859) scale(1 1.04)" text-anchor="middle">0.0</text>
<text transform="translate(1576.0 859) scale(1 1.04)" text-anchor="middle">0.4</text>
<text transform="translate(1759.0 859) scale(1 1.04)" text-anchor="middle">0.8</text>
<text transform="translate(1942.0 859) scale(1 1.04)" text-anchor="middle">1.2</text>
<text transform="translate(2125.0 859) scale(1 1.04)" text-anchor="middle">1.6</text>
<text transform="translate(1367 166.2) scale(1 1.04)" text-anchor="end">4.2</text>
<text transform="translate(1367 349.3) scale(1 1.04)" text-anchor="end">2.8</text>
<text transform="translate(1367 532.4) scale(1 1.04)" text-anchor="end">1.4</text>
<text transform="translate(1367 715.5) scale(1 1.04)" text-anchor="end">0.0</text>
</g>
<text x="1222" y="60" font-family="Liberation Sans, Arial, sans-serif" font-weight="bold" font-size="63">(b)</text>
<text transform="translate(1829.4 912) scale(1 1.04)" text-anchor="middle" font-family="Liberation Sans, Arial, sans-serif" font-weight="bold" font-size="50">Potential <tspan font-style="italic">vs</tspan> Ag/Ag<tspan font-size="29" dy="-19">+</tspan><tspan dy="19"> (V)</tspan></text>
<text transform="translate(1288 437) rotate(-90) scale(1 1.04)" text-anchor="middle" font-family="Liberation Sans, Arial, sans-serif" font-weight="bold" font-size="49.5">Current (<tspan font-weight="normal" font-size="52" font-family="Liberation Serif, serif">&#956;</tspan>A)</text>
<path d="M1466 133 H1570" stroke="#000" stroke-width="6"/>
<path d="M1466 189 H1570" stroke="#0000ff" stroke-width="6"/>
<g font-family="Liberation Sans, Arial, sans-serif" font-size="46">
<text transform="translate(1582 148) scale(1 1.04)">TPIAnCN</text>
<text transform="translate(1582 205) scale(1 1.04)">TPIChCN</text>
</g>
<g fill="none" stroke-linejoin="round" stroke-linecap="round" stroke-width="6">
<path stroke="#000" d="M1396.0 702.0 L1397.5 702.0 L1399.0 702.0 L1400.5 701.9 L1402.0 701.9 L1403.5 701.9 L1405.0 701.8 L1406.5 701.8 L1408.0 701.8 L1409.5 701.8 L1411.0 701.7 L1412.6 701.7 L1414.1 701.7 L1415.6 701.7 L1417.1 701.6 L1418.6 701.6 L1420.1 701.6 L1421.6 701.6 L1423.1 701.6 L1424.6 701.5 L1426.1 701.5 L1427.6 701.5 L1429.1 701.5 L1430.6 701.5 L1432.1 701.4 L1433.6 701.4 L1435.1 701.4 L1436.6 701.4 L1438.1 701.4 L1439.6 701.4 L1441.1 701.3 L1442.6 701.3 L1444.1 701.3 L1445.7 701.3 L1447.2 701.3 L1448.7 701.3 L1450.2 701.3 L1451.7 701.2 L1453.2 701.2 L1454.7 701.2 L1456.2 701.2 L1457.7 701.2 L1459.2 701.2 L1460.7 701.2 L1462.2 701.2 L1463.7 701.1 L1465.2 701.1 L1466.7 701.1 L1468.2 701.1 L1469.7 701.1 L1471.2 701.1 L1472.7 701.1 L1474.2 701.1 L1475.7 701.1 L1477.2 701.1 L1478.8 701.0 L1480.3 701.0 L1481.8 701.0 L1483.3 701.0 L1484.8 701.0 L1486.3 701.0 L1487.8 701.0 L1489.3 701.0 L1490.8 701.0 L1492.3 701.0 L1493.8 701.0 L1495.3 701.0 L1496.8 700.9 L1498.3 700.9 L1499.8 700.9 L1501.3 700.9 L1502.8 700.9 L1504.3 700.9 L1505.8 700.9 L1507.3 700.9 L1508.8 700.9 L1510.3 700.9 L1511.9 700.9 L1513.4 700.9 L1514.9 700.9 L1516.4 700.8 L1517.9 700.8 L1519.4 700.8 L1520.9 700.8 L1522.4 700.8 L1523.9 700.8 L1525.4 700.8 L1526.9 700.8 L1528.4 700.8 L1529.9 700.8 L1531.4 700.8 L1532.9 700.8 L1534.4 700.8 L1535.9 700.7 L1537.4 700.7 L1538.9 700.7 L1540.4 700.7 L1541.9 700.7 L1543.4 700.7 L1544.9 700.7 L1546.5 700.7 L1548.0 700.7 L1549.5 700.7 L1551.0 700.6 L1552.5 700.6 L1554.0 700.6 L1555.5 700.6 L1557.0 700.6 L1558.5 700.6 L1560.0 700.6 L1561.5 700.6 L1563.0 700.6 L1564.5 700.5 L1566.0 700.5 L1567.5 700.5 L1569.0 700.5 L1570.5 700.5 L1572.0 700.5 L1573.5 700.5 L1575.0 700.4 L1576.5 700.4 L1578.0 700.4 L1579.5 700.4 L1581.0 700.4 L1582.6 700.4 L1584.1 700.3 L1585.6 700.3 L1587.1 700.3 L1588.6 700.3 L1590.1 700.3 L1591.6 700.2 L1593.1 700.2 L1594.6 700.2 L1596.1 700.2 L1597.6 700.2 L1599.1 700.1 L1600.6 700.1 L1602.1 700.1 L1603.6 700.1 L1605.1 700.0 L1606.6 700.0 L1608.1 700.0 L1609.6 700.0 L1611.1 699.9 L1612.6 699.9 L1614.1 699.9 L1615.6 699.9 L1617.1 699.8 L1618.7 699.8 L1620.2 699.8 L1621.7 699.7 L1623.2 699.7 L1624.7 699.7 L1626.2 699.6 L1627.7 699.6 L1629.2 699.6 L1630.7 699.5 L1632.2 699.5 L1633.7 699.5 L1635.2 699.4 L1636.7 699.4 L1638.2 699.4 L1639.7 699.3 L1641.2 699.3 L1642.7 699.2 L1644.2 699.2 L1645.7 699.2 L1647.2 699.1 L1648.7 699.1 L1650.2 699.0 L1651.7 699.0 L1653.2 698.9 L1654.7 698.9 L1656.3 698.8 L1657.8 698.8 L1659.3 698.7 L1660.8 698.7 L1662.3 698.6 L1663.8 698.6 L1665.3 698.5 L1666.8 698.5 L1668.3 698.4 L1669.8 698.4 L1671.3 698.3 L1672.8 698.3 L1674.3 698.2 L1675.8 698.1 L1677.3 698.1 L1678.8 698.0 L1680.3 698.0 L1681.8 697.9 L1683.3 697.8 L1684.8 697.8 L1686.3 697.7 L1687.8 697.6 L1689.3 697.6 L1690.8 697.5 L1692.3 697.4 L1693.8 697.4 L1695.4 697.3 L1696.9 697.2 L1698.4 697.1 L1699.9 697.1 L1701.4 697.0 L1702.9 696.9 L1704.4 696.8 L1705.9 696.8 L1707.4 696.7 L1708.9 696.6 L1710.4 696.5 L1711.9 696.5 L1713.4 696.4 L1714.9 696.3 L1716.4 696.2 L1717.9 696.2 L1719.4 696.1 L1720.9 696.0 L1722.4 695.9 L1723.9 695.9 L1725.4 695.8 L1726.9 695.7 L1728.4 695.6 L1729.9 695.6 L1731.4 695.5 L1732.9 695.4 L1734.4 695.3 L1736.0 695.3 L1737.5 695.2 L1739.0 695.1 L1740.5 695.1 L1742.0 695.0 L1743.5 694.9 L1745.0 694.9 L1746.5 694.8 L1748.0 694.8 L1749.5 694.7 L1751.0 694.6 L1752.5 694.6 L1754.0 694.5 L1755.5 694.5 L1757.0 694.4 L1758.5 694.4 L1760.0 694.3 L1761.5 694.3 L1763.0 694.3 L1764.5 694.2 L1766.0 694.2 L1767.5 694.1 L1769.0 694.1 L1770.5 694.1 L1772.0 694.0 L1773.5 694.0 L1775.0 694.0 L1776.5 694.0 L1778.1 694.0 L1779.6 693.9 L1781.1 693.9 L1782.6 693.9 L1784.1 693.9 L1785.6 693.9 L1787.1 693.9 L1788.6 693.9 L1790.1 693.9 L1791.6 693.9 L1793.1 693.9 L1794.6 693.9 L1796.1 693.9 L1797.6 693.9 L1799.1 693.9 L1800.6 693.9 L1802.1 693.9 L1803.6 693.9 L1805.1 693.9 L1806.6 693.9 L1808.1 693.9 L1809.6 693.9 L1811.1 693.9 L1812.6 694.0 L1814.1 694.0 L1815.6 694.0 L1817.1 694.0 L1818.6 694.0 L1820.2 694.0 L1821.7 694.0 L1823.2 694.0 L1824.7 694.1 L1826.2 694.1 L1827.7 694.1 L1829.2 694.1 L1830.7 694.1 L1832.2 694.1 L1833.7 694.1 L1835.2 694.1 L1836.7 694.2 L1838.2 694.2 L1839.7 694.2 L1841.2 694.2 L1842.7 694.2 L1844.2 694.2 L1845.7 694.2 L1847.2 694.2 L1848.7 694.2 L1850.2 694.2 L1851.7 694.2 L1853.2 694.2 L1854.7 694.2 L1856.2 694.2 L1857.7 694.2 L1859.2 694.2 L1860.8 694.2 L1862.3 694.2 L1863.8 694.2 L1865.3 694.2 L1866.8 694.2 L1868.3 694.1 L1869.8 694.1 L1871.3 694.1 L1872.8 694.1 L1874.3 694.1 L1875.8 694.0 L1877.3 694.0 L1878.8 694.0 L1880.3 693.9 L1881.8 693.9 L1883.3 693.9 L1884.8 693.8 L1886.3 693.8 L1887.8 693.7 L1889.3 693.7 L1890.8 693.6 L1892.3 693.6 L1893.8 693.5 L1895.3 693.4 L1896.9 693.4 L1898.4 693.3 L1899.9 693.2 L1901.4 693.2 L1902.9 693.1 L1904.4 693.0 L1905.9 692.9 L1907.4 692.8 L1908.9 692.7 L1910.4 692.6 L1911.9 692.5 L1913.4 692.4 L1914.9 692.3 L1916.4 692.2 L1917.9 692.1 L1919.4 691.9 L1920.9 691.8 L1922.4 691.7 L1923.9 691.6 L1925.4 691.4 L1927.0 691.3 L1928.5 691.1 L1930.0 691.0 L1931.5 690.8 L1933.0 690.6 L1934.5 690.4 L1936.0 690.3 L1937.5 690.0 L1939.0 689.8 L1940.4 689.6 L1941.9 689.3 L1943.4 689.0 L1944.8 688.6 L1946.3 688.3 L1947.7 687.9 L1949.1 687.4 L1950.5 686.9 L1951.9 686.4 L1953.3 685.8 L1954.6 685.2 L1955.9 684.5 L1957.3 683.8 L1958.5 683.0 L1959.8 682.2 L1961.1 681.4 L1962.3 680.5 L1963.5 679.6 L1964.7 678.6 L1965.8 677.7 L1967.0 676.6 L1968.1 675.6 L1969.2 674.5 L1970.2 673.4 L1971.2 672.3 L1972.2 671.1 L1973.2 670.0 L1974.2 668.8 L1975.1 667.5 L1975.9 666.3 L1976.8 665.0 L1977.6 663.8 L1978.4 662.5 L1979.2 661.2 L1979.9 659.9 L1980.6 658.6 L1981.3 657.2 L1982.0 655.9 L1982.7 654.6 L1983.4 653.2 L1984.0 651.9 L1984.7 650.5 L1985.3 649.2 L1986.0 647.8 L1986.6 646.5 L1987.3 645.1 L1988.0 643.8 L1988.6 642.4 L1989.3 641.1 L1990.0 639.8 L1990.7 638.4 L1991.4 637.1 L1992.1 635.8 L1992.8 634.4 L1993.5 633.1 L1994.2 631.8 L1995.0 630.5 L1995.7 629.2 L1996.4 627.9 L1997.2 626.6 L1997.9 625.3 L1998.7 624.0 L1999.5 622.7 L2000.2 621.4 L2001.0 620.1 L2001.8 618.8 L2002.6 617.5 L2003.4 616.2 L2004.2 615.0 L2005.0 613.7 L2005.8 612.4 L2006.6 611.2 L2007.4 609.9 L2008.2 608.7 L2009.1 607.4 L2009.9 606.2 L2010.7 604.9 L2011.6 603.7 L2012.4 602.4 L2013.3 601.2 L2014.2 600.0 L2015.0 598.7 L2015.9 597.5 L2016.8 596.3 L2017.7 595.1 L2018.6 593.9 L2019.5 592.7 L2020.4 591.5 L2021.3 590.2 L2022.2 589.0 L2023.1 587.8 L2024.0 586.6 L2024.9 585.4 L2025.8 584.2 L2026.7 583.0 L2027.6 581.8 L2028.5 580.6 L2029.4 579.4 L2030.3 578.2 L2031.2 577.0 L2032.0 575.8 L2032.9 574.5 L2033.8 573.3 L2034.6 572.1 L2035.5 570.9 L2036.3 569.6 L2037.2 568.4 L2038.0 567.1 L2038.8 565.9 L2039.6 564.6 L2040.4 563.3 L2041.1 562.1 L2041.9 560.8 L2042.6 559.5 L2043.4 558.2 L2044.1 556.9 L2044.8 555.6 L2045.6 554.2 L2046.3 552.9 L2047.0 551.6 L2047.7 550.3 L2048.3 548.9 L2049.0 547.6 L2049.7 546.2 L2050.4 544.9 L2051.1 543.5 L2051.8 542.2 L2052.4 540.8 L2053.1 539.5 L2053.8 538.1 L2054.5 536.7 L2055.2 535.4 L2055.9 534.0 L2056.6 532.7 L2057.3 531.3 L2058.1 530.0 L2058.8 528.6 L2059.6 527.3 L2060.3 526.0 L2061.1 524.7 L2061.9 523.4 L2062.8 522.2 L2063.6 520.9 L2064.5 519.7 L2065.4 518.5 L2066.4 517.3 L2067.3 516.1 L2068.3 515.0 L2069.4 513.9 L2070.4 512.8 L2071.5 511.7 L2072.6 510.7 L2073.8 509.7 L2075.0 508.9 L2076.2 508.2 L2077.5 507.7 L2078.8 507.5 L2080.1 507.5 L2081.4 507.9 L2082.6 508.5 L2083.9 509.3 L2085.1 510.2 L2086.3 511.2 L2087.5 512.3 L2088.5 513.4 L2089.5 514.5 L2090.5 515.6 L2091.4 516.8 L2092.3 518.0 L2093.2 519.3 L2094.0 520.5 L2094.7 521.8 L2095.5 523.1 L2096.2 524.5 L2096.8 525.8 L2097.5 527.2 L2098.1 528.6 L2098.7 530.0 L2099.3 531.4 L2099.9 532.8 L2100.5 534.2 L2101.1 535.6 L2101.6 537.0 L2102.2 538.5 L2102.8 539.9 L2103.4 541.3 L2104.0 542.7 L2104.6 544.1 L2105.2 545.5 L2105.8 546.9 L2106.5 548.3 L2107.1 549.6 L2107.8 551.0 L2108.5 552.3 L2109.3 553.6 L2110.0 554.9 L2110.8 556.2 L2111.6 557.5 L2112.4 558.8 L2113.2 560.0 L2114.1 561.2 L2114.9 562.5 L2115.8 563.7 L2116.7 564.9 L2117.6 566.1 L2118.6 567.2 L2119.5 568.4 L2120.5 569.6 L2121.5 570.7 L2122.5 571.8 L2123.5 572.9 L2124.6 574.0 L2125.6 575.1 L2126.7 576.2 L2127.8 577.2 L2128.9 578.3 L2130.0 579.3 L2131.1 580.3 L2132.2 581.2 L2133.4 582.2 L2134.6 583.1 L2135.8 584.0 L2137.0 584.9 L2138.2 585.8 L2139.4 586.6 L2140.7 587.4 L2142.0 588.2 L2143.3 589.0 L2144.6 589.7 L2145.9 590.4 L2147.2 591.0 L2148.6 591.7 L2149.9 592.3 L2151.3 592.8 L2152.7 593.4 L2154.1 593.9 L2155.5 594.3 L2157.0 594.7 L2158.4 595.1 L2159.9 595.5 L2161.4 595.8 L2162.9 596.0 L2164.4 596.3 L2165.9 596.4 L2167.4 596.6 L2169.0 596.7 L2170.6 596.7 L2172.2 596.7"/>
<path stroke="#000" d="M2171.9 596.9 L2171.8 598.4 L2171.7 599.9 L2171.5 601.4 L2171.2 602.9 L2170.8 604.5 L2170.4 606.0 L2169.9 607.5 L2169.4 608.9 L2168.8 610.4 L2168.1 611.8 L2167.3 613.1 L2166.5 614.4 L2165.6 615.6 L2164.7 616.8 L2163.7 617.8 L2162.6 618.7 L2161.4 619.6 L2160.2 620.3 L2159.0 621.0 L2157.7 621.6 L2156.3 622.0 L2154.9 622.5 L2153.5 622.8 L2152.0 623.1 L2150.5 623.4 L2149.0 623.6 L2147.5 623.8 L2146.0 624.0 L2144.4 624.1 L2142.9 624.2 L2141.4 624.4 L2139.9 624.5 L2138.3 624.6 L2136.8 624.7 L2135.3 624.8 L2133.8 624.9 L2132.3 625.0 L2130.8 625.1 L2129.4 625.2 L2127.9 625.3 L2126.4 625.4 L2124.9 625.5 L2123.4 625.6 L2121.9 625.7 L2120.4 625.8 L2118.9 625.9 L2117.5 626.0 L2116.0 626.1 L2114.5 626.3 L2113.0 626.4 L2111.4 626.5 L2109.9 626.6 L2108.4 626.7 L2106.9 626.9 L2105.4 627.0 L2103.8 627.2 L2102.3 627.3 L2100.8 627.5 L2099.3 627.8 L2097.8 628.0 L2096.3 628.3 L2094.8 628.6 L2093.4 628.9 L2091.9 629.3 L2090.5 629.7 L2089.1 630.1 L2087.7 630.6 L2086.3 631.2 L2085.0 631.8 L2083.7 632.4 L2082.4 633.1 L2081.1 633.9 L2079.9 634.7 L2078.7 635.5 L2077.6 636.5 L2076.4 637.4 L2075.3 638.5 L2074.2 639.5 L2073.2 640.6 L2072.1 641.7 L2071.1 642.8 L2070.0 644.0 L2069.0 645.1 L2068.0 646.3 L2067.0 647.5 L2066.0 648.7 L2065.0 649.8 L2064.0 651.0 L2063.0 652.1 L2062.1 653.3 L2061.1 654.5 L2060.1 655.6 L2059.1 656.8 L2058.2 657.9 L2057.2 659.1 L2056.3 660.2 L2055.3 661.4 L2054.4 662.6 L2053.5 663.7 L2052.5 664.9 L2051.6 666.1 L2050.7 667.3 L2049.8 668.5 L2049.0 669.7 L2048.1 670.9 L2047.2 672.1 L2046.4 673.3 L2045.5 674.5 L2044.7 675.7 L2043.8 676.9 L2043.0 678.2 L2042.1 679.4 L2041.3 680.7 L2040.4 681.9 L2039.6 683.2 L2038.8 684.4 L2037.9 685.7 L2037.1 686.9 L2036.2 688.2 L2035.4 689.4 L2034.5 690.7 L2033.7 691.9 L2032.8 693.2 L2031.9 694.4 L2031.0 695.7 L2030.1 696.9 L2029.2 698.1 L2028.3 699.3 L2027.4 700.5 L2026.5 701.7 L2025.5 702.9 L2024.6 704.0 L2023.6 705.1 L2022.6 706.2 L2021.6 707.3 L2020.6 708.4 L2019.6 709.5 L2018.6 710.5 L2017.5 711.6 L2016.4 712.6 L2015.4 713.6 L2014.3 714.6 L2013.2 715.6 L2012.1 716.6 L2010.9 717.6 L2009.8 718.5 L2008.7 719.5 L2007.5 720.5 L2006.4 721.4 L2005.2 722.4 L2004.1 723.3 L2002.9 724.3 L2001.7 725.2 L2000.5 726.2 L1999.3 727.1 L1998.1 728.1 L1996.9 729.0 L1995.7 730.0 L1994.5 730.9 L1993.3 731.9 L1992.1 732.9 L1990.8 733.9 L1989.6 734.8 L1988.4 735.8 L1987.1 736.7 L1985.9 737.6 L1984.6 738.5 L1983.3 739.3 L1982.0 740.0 L1980.7 740.7 L1979.4 741.3 L1978.1 741.9 L1976.8 742.3 L1975.4 742.7 L1974.0 742.9 L1972.6 743.1 L1971.2 743.1 L1969.8 743.0 L1968.3 742.8 L1966.9 742.5 L1965.5 742.1 L1964.1 741.6 L1962.7 741.0 L1961.3 740.3 L1960.0 739.6 L1958.7 738.8 L1957.4 737.9 L1956.2 736.9 L1955.0 736.0 L1953.9 735.0 L1952.7 733.9 L1951.6 732.9 L1950.4 731.9 L1949.3 730.9 L1948.1 729.9 L1946.9 728.9 L1945.7 728.0 L1944.5 727.1 L1943.2 726.3 L1941.9 725.5 L1940.6 724.8 L1939.3 724.1 L1937.9 723.5 L1936.5 722.9 L1935.1 722.3 L1933.7 721.7 L1932.3 721.2 L1930.9 720.7 L1929.5 720.2 L1928.0 719.7 L1926.6 719.2 L1925.2 718.8 L1923.7 718.3 L1922.3 717.9 L1920.8 717.4 L1919.4 717.0 L1918.0 716.6 L1916.5 716.2 L1915.1 715.8 L1913.6 715.4 L1912.2 715.0 L1910.7 714.6 L1909.3 714.2 L1907.8 713.9 L1906.4 713.5 L1904.9 713.2 L1903.5 712.9 L1902.0 712.5 L1900.6 712.2 L1899.1 711.9 L1897.6 711.6 L1896.2 711.3 L1894.7 711.0 L1893.2 710.8 L1891.8 710.5 L1890.3 710.2 L1888.8 710.0 L1887.4 709.7 L1885.9 709.5 L1884.4 709.3 L1882.9 709.0 L1881.5 708.8 L1880.0 708.6 L1878.5 708.4 L1877.0 708.2 L1875.6 708.0 L1874.1 707.8 L1872.6 707.7 L1871.1 707.5 L1869.6 707.3 L1868.1 707.2 L1866.7 707.0 L1865.2 706.9 L1863.7 706.7 L1862.2 706.6 L1860.7 706.4 L1859.2 706.3 L1857.7 706.2 L1856.2 706.1 L1854.7 706.0 L1853.2 705.9 L1851.7 705.8 L1850.3 705.7 L1848.8 705.6 L1847.3 705.5 L1845.8 705.4 L1844.3 705.3 L1842.8 705.3 L1841.3 705.2 L1839.8 705.1 L1838.3 705.1 L1836.8 705.0 L1835.3 705.0 L1833.8 704.9 L1832.3 704.9 L1830.7 704.8 L1829.2 704.8 L1827.7 704.8 L1826.2 704.7 L1824.7 704.7 L1823.2 704.7 L1821.7 704.6 L1820.2 704.6 L1818.7 704.6 L1817.2 704.6 L1815.7 704.6 L1814.2 704.6 L1812.7 704.6 L1811.2 704.6 L1809.6 704.6 L1808.1 704.6 L1806.6 704.6 L1805.1 704.6 L1803.6 704.6 L1802.1 704.6 L1800.6 704.6 L1799.1 704.6 L1797.6 704.6 L1796.1 704.6 L1794.5 704.6 L1793.0 704.7 L1791.5 704.7 L1790.0 704.7 L1788.5 704.7 L1787.0 704.7 L1785.5 704.8 L1784.0 704.8 L1782.4 704.8 L1780.9 704.8 L1779.4 704.8 L1777.9 704.9 L1776.4 704.9 L1774.9 704.9 L1773.4 704.9 L1771.9 705.0 L1770.4 705.0 L1768.8 705.0 L1767.3 705.0 L1765.8 705.0 L1764.3 705.1 L1762.8 705.1 L1761.3 705.1 L1759.8 705.1 L1758.3 705.1 L1756.8 705.1 L1755.3 705.2 L1753.7 705.2 L1752.2 705.2 L1750.7 705.2 L1749.2 705.2 L1747.7 705.2 L1746.2 705.3 L1744.7 705.3 L1743.2 705.3 L1741.7 705.3 L1740.2 705.3 L1738.7 705.3 L1737.2 705.3 L1735.6 705.3 L1734.1 705.4 L1732.6 705.4 L1731.1 705.4 L1729.6 705.4 L1728.1 705.4 L1726.6 705.4 L1725.1 705.4 L1723.6 705.4 L1722.1 705.4 L1720.6 705.4 L1719.1 705.5 L1717.6 705.5 L1716.1 705.5 L1714.6 705.5 L1713.0 705.5 L1711.5 705.5 L1710.0 705.5 L1708.5 705.5 L1707.0 705.5 L1705.5 705.5 L1704.0 705.5 L1702.5 705.5 L1701.0 705.5 L1699.5 705.5 L1698.0 705.5 L1696.5 705.5 L1695.0 705.5 L1693.5 705.5 L1692.0 705.5 L1690.5 705.5 L1689.0 705.5 L1687.5 705.5 L1686.0 705.5 L1684.5 705.5 L1683.0 705.5 L1681.5 705.5 L1680.0 705.5 L1678.5 705.5 L1677.0 705.5 L1675.5 705.5 L1673.9 705.5 L1672.4 705.5 L1670.9 705.5 L1669.4 705.5 L1667.9 705.5 L1666.4 705.5 L1664.9 705.5 L1663.4 705.5 L1661.9 705.5 L1660.4 705.5 L1658.9 705.5 L1657.4 705.5 L1655.9 705.5 L1654.4 705.5 L1652.9 705.5 L1651.4 705.5 L1649.9 705.5 L1648.4 705.5 L1646.9 705.5 L1645.4 705.5 L1643.9 705.5 L1642.4 705.5 L1640.9 705.5 L1639.4 705.4 L1637.9 705.4 L1636.4 705.4 L1634.9 705.4 L1633.4 705.4 L1631.9 705.4 L1630.4 705.4 L1628.9 705.4 L1627.4 705.4 L1625.9 705.4 L1624.4 705.4 L1622.9 705.4 L1621.4 705.4 L1619.9 705.4 L1618.4 705.3 L1616.9 705.3 L1615.4 705.3 L1613.9 705.3 L1612.4 705.3 L1610.9 705.3 L1609.4 705.3 L1607.9 705.3 L1606.4 705.3 L1604.9 705.3 L1603.4 705.3 L1601.9 705.3 L1600.4 705.2 L1598.9 705.2 L1597.4 705.2 L1595.9 705.2 L1594.4 705.2 L1592.9 705.2 L1591.4 705.2 L1589.9 705.2 L1588.4 705.2 L1586.9 705.2 L1585.4 705.1 L1583.9 705.1 L1582.4 705.1 L1580.9 705.1 L1579.4 705.1 L1577.9 705.1 L1576.4 705.1 L1574.9 705.1 L1573.4 705.1 L1571.9 705.1 L1570.4 705.0 L1568.9 705.0 L1567.4 705.0 L1565.9 705.0 L1564.4 705.0 L1562.9 705.0 L1561.4 705.0 L1559.9 705.0 L1558.4 705.0 L1556.9 704.9 L1555.4 704.9 L1553.9 704.9 L1552.4 704.9 L1550.9 704.9 L1549.4 704.9 L1547.9 704.9 L1546.4 704.9 L1544.9 704.9 L1543.4 704.9 L1541.9 704.8 L1540.4 704.8 L1538.9 704.8 L1537.4 704.8 L1535.9 704.8 L1534.4 704.8 L1532.9 704.8 L1531.4 704.8 L1529.9 704.8 L1528.4 704.8 L1526.9 704.7 L1525.4 704.7 L1523.9 704.7 L1522.4 704.7 L1520.9 704.7 L1519.4 704.7 L1517.9 704.7 L1516.4 704.7 L1514.9 704.7 L1513.4 704.7 L1511.9 704.7 L1510.4 704.6 L1508.9 704.6 L1507.4 704.6 L1505.9 704.6 L1504.4 704.6 L1502.9 704.6 L1501.4 704.6 L1499.9 704.6 L1498.4 704.6 L1496.9 704.6 L1495.4 704.6 L1493.9 704.6 L1492.4 704.5 L1490.9 704.5 L1489.4 704.5 L1487.8 704.5 L1486.3 704.5 L1484.8 704.5 L1483.3 704.5 L1481.8 704.5 L1480.3 704.5 L1478.8 704.5 L1477.3 704.5 L1475.8 704.5 L1474.3 704.5 L1472.8 704.5 L1471.3 704.5 L1469.8 704.5 L1468.3 704.5 L1466.8 704.5 L1465.3 704.5 L1463.8 704.4 L1462.3 704.4 L1460.8 704.4 L1459.3 704.4 L1457.8 704.4 L1456.3 704.4 L1454.8 704.4 L1453.3 704.4 L1451.8 704.4 L1450.2 704.4 L1448.7 704.4 L1447.2 704.4 L1445.7 704.4 L1444.2 704.4 L1442.7 704.4 L1441.2 704.4 L1439.7 704.4 L1438.2 704.4 L1436.7 704.4 L1435.2 704.4 L1433.7 704.4 L1432.2 704.4 L1430.7 704.4 L1429.2 704.4 L1427.6 704.4 L1426.1 704.4 L1424.6 704.4 L1423.1 704.4 L1421.6 704.4 L1420.1 704.4 L1418.6 704.5 L1417.1 704.5 L1415.6 704.5 L1414.1 704.5 L1412.6 704.5 L1411.1 704.5 L1409.5 704.5 L1408.0 704.5 L1406.5 704.5 L1405.0 704.5 L1403.5 704.5 L1402.0 704.5 L1400.5 704.5 L1399.0 704.5 L1397.5 704.5 L1396.0 704.6"/>
<path stroke="#0000ff" d="M1396.0 451.0 L1397.5 451.0 L1399.0 451.0 L1400.5 451.0 L1402.0 450.9 L1403.5 450.9 L1405.0 450.9 L1406.5 450.9 L1408.0 450.9 L1409.5 450.8 L1411.0 450.8 L1412.5 450.8 L1414.0 450.8 L1415.5 450.8 L1417.0 450.8 L1418.5 450.7 L1420.0 450.7 L1421.5 450.7 L1423.0 450.7 L1424.5 450.7 L1426.0 450.7 L1427.5 450.6 L1429.1 450.6 L1430.6 450.6 L1432.1 450.6 L1433.6 450.6 L1435.1 450.6 L1436.6 450.5 L1438.1 450.5 L1439.6 450.5 L1441.1 450.5 L1442.6 450.5 L1444.1 450.5 L1445.6 450.5 L1447.1 450.4 L1448.6 450.4 L1450.1 450.4 L1451.6 450.4 L1453.1 450.4 L1454.6 450.4 L1456.1 450.3 L1457.6 450.3 L1459.1 450.3 L1460.6 450.3 L1462.1 450.3 L1463.6 450.3 L1465.1 450.3 L1466.6 450.3 L1468.1 450.2 L1469.6 450.2 L1471.1 450.2 L1472.6 450.2 L1474.1 450.2 L1475.6 450.2 L1477.1 450.2 L1478.6 450.1 L1480.1 450.1 L1481.6 450.1 L1483.1 450.1 L1484.6 450.1 L1486.1 450.1 L1487.6 450.1 L1489.1 450.1 L1490.6 450.0 L1492.1 450.0 L1493.6 450.0 L1495.1 450.0 L1496.7 450.0 L1498.2 450.0 L1499.7 450.0 L1501.2 450.0 L1502.7 449.9 L1504.2 449.9 L1505.7 449.9 L1507.2 449.9 L1508.7 449.9 L1510.2 449.9 L1511.7 449.9 L1513.2 449.9 L1514.7 449.8 L1516.2 449.8 L1517.7 449.8 L1519.2 449.8 L1520.7 449.8 L1522.2 449.8 L1523.7 449.8 L1525.2 449.8 L1526.7 449.7 L1528.2 449.7 L1529.7 449.7 L1531.2 449.7 L1532.7 449.7 L1534.2 449.7 L1535.7 449.7 L1537.2 449.7 L1538.7 449.6 L1540.2 449.6 L1541.7 449.6 L1543.2 449.6 L1544.7 449.6 L1546.2 449.6 L1547.7 449.6 L1549.2 449.6 L1550.7 449.5 L1552.2 449.5 L1553.7 449.5 L1555.2 449.5 L1556.7 449.5 L1558.2 449.5 L1559.7 449.5 L1561.2 449.4 L1562.7 449.4 L1564.2 449.4 L1565.7 449.4 L1567.3 449.4 L1568.8 449.4 L1570.3 449.4 L1571.8 449.4 L1573.3 449.3 L1574.8 449.3 L1576.3 449.3 L1577.8 449.3 L1579.3 449.3 L1580.8 449.3 L1582.3 449.3 L1583.8 449.2 L1585.3 449.2 L1586.8 449.2 L1588.3 449.2 L1589.8 449.2 L1591.3 449.2 L1592.8 449.2 L1594.3 449.1 L1595.8 449.1 L1597.3 449.1 L1598.8 449.1 L1600.3 449.1 L1601.8 449.1 L1603.3 449.0 L1604.8 449.0 L1606.3 449.0 L1607.8 449.0 L1609.3 449.0 L1610.8 449.0 L1612.3 448.9 L1613.8 448.9 L1615.3 448.9 L1616.8 448.9 L1618.3 448.9 L1619.8 448.9 L1621.3 448.8 L1622.8 448.8 L1624.3 448.8 L1625.8 448.8 L1627.3 448.8 L1628.8 448.8 L1630.3 448.7 L1631.8 448.7 L1633.3 448.7 L1634.8 448.7 L1636.4 448.7 L1637.9 448.6 L1639.4 448.6 L1640.9 448.6 L1642.4 448.6 L1643.9 448.6 L1645.4 448.6 L1646.9 448.5 L1648.4 448.5 L1649.9 448.5 L1651.4 448.5 L1652.9 448.4 L1654.4 448.4 L1655.9 448.4 L1657.4 448.4 L1658.9 448.4 L1660.4 448.3 L1661.9 448.3 L1663.4 448.3 L1664.9 448.3 L1666.4 448.3 L1667.9 448.2 L1669.4 448.2 L1670.9 448.2 L1672.4 448.2 L1673.9 448.1 L1675.4 448.1 L1676.9 448.1 L1678.4 448.1 L1679.9 448.0 L1681.4 448.0 L1682.9 448.0 L1684.4 448.0 L1685.9 447.9 L1687.4 447.9 L1688.9 447.9 L1690.4 447.9 L1691.9 447.8 L1693.4 447.8 L1694.9 447.8 L1696.4 447.8 L1698.0 447.7 L1699.5 447.7 L1701.0 447.7 L1702.5 447.6 L1704.0 447.6 L1705.5 447.5 L1707.0 447.5 L1708.5 447.4 L1710.0 447.4 L1711.5 447.3 L1713.0 447.3 L1714.5 447.2 L1716.0 447.1 L1717.5 447.0 L1719.0 446.9 L1720.5 446.8 L1722.0 446.7 L1723.5 446.6 L1725.0 446.5 L1726.4 446.4 L1727.9 446.3 L1729.4 446.1 L1730.9 446.0 L1732.4 445.8 L1733.9 445.6 L1735.4 445.5 L1736.9 445.3 L1738.4 445.1 L1739.9 444.9 L1741.4 444.8 L1742.9 444.6 L1744.4 444.4 L1745.9 444.2 L1747.4 444.1 L1748.9 443.9 L1750.4 443.8 L1751.9 443.6 L1753.3 443.5 L1754.8 443.3 L1756.3 443.2 L1757.8 443.1 L1759.3 443.0 L1760.8 443.0 L1762.3 442.9 L1763.8 442.8 L1765.3 442.8 L1766.8 442.7 L1768.3 442.7 L1769.8 442.7 L1771.4 442.7 L1772.9 442.7 L1774.4 442.7 L1775.9 442.7 L1777.4 442.7 L1778.9 442.7 L1780.4 442.7 L1781.9 442.7 L1783.4 442.7 L1784.9 442.8 L1786.4 442.8 L1787.9 442.8 L1789.4 442.8 L1790.9 442.9 L1792.4 442.9 L1793.9 442.9 L1795.4 442.9 L1796.9 443.0 L1798.4 443.0 L1799.9 443.0 L1801.4 443.0 L1802.9 443.0 L1804.4 443.0 L1806.0 443.0 L1807.5 443.0 L1809.0 443.1 L1810.5 443.1 L1812.0 443.1 L1813.5 443.1 L1815.0 443.1 L1816.5 443.1 L1818.0 443.0 L1819.5 443.0 L1821.0 443.0 L1822.5 443.0 L1824.0 443.0 L1825.5 443.0 L1827.0 443.0 L1828.5 443.0 L1830.0 443.0 L1831.5 442.9 L1833.0 442.9 L1834.5 442.9 L1836.0 442.9 L1837.5 442.9 L1839.0 442.8 L1840.5 442.8 L1842.0 442.8 L1843.5 442.7 L1845.0 442.7 L1846.5 442.7 L1848.0 442.7 L1849.5 442.6 L1851.0 442.6 L1852.5 442.6 L1854.0 442.5 L1855.5 442.5 L1857.0 442.5 L1858.5 442.4 L1860.0 442.4 L1861.5 442.4 L1863.0 442.3 L1864.5 442.3 L1866.0 442.2 L1867.5 442.2 L1869.0 442.2 L1870.5 442.1 L1872.0 442.1 L1873.5 442.0 L1875.0 442.0 L1876.5 441.9 L1878.0 441.9 L1879.5 441.9 L1881.0 441.8 L1882.5 441.8 L1884.0 441.7 L1885.5 441.7 L1887.0 441.6 L1888.5 441.6 L1890.0 441.6 L1891.5 441.5 L1893.0 441.5 L1894.5 441.4 L1896.0 441.4 L1897.5 441.3 L1899.0 441.3 L1900.5 441.2 L1902.1 441.2 L1903.6 441.2 L1905.1 441.1 L1906.6 441.1 L1908.1 441.0 L1909.6 440.9 L1911.1 440.9 L1912.6 440.8 L1914.1 440.7 L1915.6 440.6 L1917.1 440.4 L1918.6 440.3 L1920.1 440.1 L1921.6 439.9 L1923.0 439.7 L1924.5 439.5 L1926.0 439.3 L1927.5 439.0 L1929.0 438.7 L1930.5 438.4 L1931.9 438.0 L1933.4 437.6 L1934.8 437.2 L1936.3 436.8 L1937.7 436.3 L1939.2 435.8 L1940.6 435.2 L1942.0 434.7 L1943.3 434.1 L1944.7 433.4 L1946.0 432.7 L1947.3 432.0 L1948.6 431.3 L1949.8 430.5 L1951.1 429.6 L1952.2 428.8 L1953.4 427.9 L1954.5 426.9 L1955.6 426.0 L1956.6 424.9 L1957.6 423.9 L1958.6 422.8 L1959.6 421.7 L1960.5 420.5 L1961.3 419.3 L1962.2 418.1 L1963.0 416.8 L1963.8 415.6 L1964.5 414.3 L1965.3 413.0 L1966.0 411.6 L1966.7 410.3 L1967.4 408.9 L1968.0 407.5 L1968.6 406.1 L1969.2 404.7 L1969.8 403.3 L1970.4 401.9 L1971.0 400.4 L1971.5 399.0 L1972.1 397.5 L1972.6 396.1 L1973.1 394.6 L1973.7 393.2 L1974.2 391.8 L1974.7 390.3 L1975.2 388.9 L1975.6 387.4 L1976.1 386.0 L1976.6 384.6 L1977.1 383.1 L1977.5 381.7 L1978.0 380.3 L1978.4 378.9 L1978.9 377.4 L1979.3 376.0 L1979.8 374.6 L1980.2 373.2 L1980.6 371.7 L1981.1 370.3 L1981.5 368.9 L1981.9 367.5 L1982.3 366.0 L1982.7 364.6 L1983.1 363.2 L1983.5 361.8 L1983.9 360.3 L1984.3 358.9 L1984.7 357.5 L1985.1 356.1 L1985.5 354.6 L1985.9 353.2 L1986.3 351.8 L1986.7 350.3 L1987.1 348.9 L1987.5 347.5 L1987.9 346.0 L1988.3 344.6 L1988.7 343.1 L1989.1 341.7 L1989.5 340.3 L1989.9 338.8 L1990.3 337.4 L1990.7 335.9 L1991.1 334.5 L1991.5 333.0 L1991.9 331.5 L1992.3 330.1 L1992.7 328.6 L1993.1 327.2 L1993.5 325.7 L1993.9 324.3 L1994.3 322.8 L1994.7 321.3 L1995.1 319.9 L1995.5 318.4 L1995.9 317.0 L1996.3 315.5 L1996.8 314.1 L1997.2 312.6 L1997.6 311.2 L1998.0 309.7 L1998.4 308.3 L1998.9 306.8 L1999.3 305.4 L1999.7 303.9 L2000.1 302.5 L2000.6 301.0 L2001.0 299.6 L2001.4 298.2 L2001.9 296.8 L2002.3 295.3 L2002.7 293.9 L2003.2 292.5 L2003.6 291.1 L2004.0 289.7 L2004.5 288.3 L2005.0 286.8 L2005.4 285.4 L2005.9 284.0 L2006.4 282.6 L2006.9 281.2 L2007.5 279.8 L2008.1 278.4 L2008.7 277.0 L2009.3 275.6 L2010.0 274.2 L2010.7 272.7 L2011.5 271.3 L2012.3 269.9 L2013.2 268.4 L2014.1 267.1 L2015.1 265.8 L2016.1 264.6 L2017.2 263.5 L2018.3 262.6 L2019.4 261.9 L2020.6 261.3 L2021.8 260.9 L2023.1 260.8 L2024.3 260.8 L2025.6 261.1 L2026.8 261.6 L2028.0 262.2 L2029.2 263.0 L2030.4 264.0 L2031.5 265.0 L2032.6 266.2 L2033.7 267.3 L2034.7 268.6 L2035.6 269.8 L2036.5 271.1 L2037.4 272.4 L2038.3 273.7 L2039.1 275.1 L2039.9 276.4 L2040.6 277.8 L2041.4 279.1 L2042.1 280.5 L2042.9 281.8 L2043.6 283.2 L2044.3 284.5 L2045.0 285.9 L2045.8 287.2 L2046.5 288.5 L2047.3 289.8 L2048.0 291.0 L2048.8 292.3 L2049.7 293.5 L2050.5 294.7 L2051.4 295.8 L2052.4 296.9 L2053.3 298.0 L2054.4 299.0 L2055.5 300.0 L2056.6 300.9 L2057.8 301.8 L2059.0 302.6 L2060.3 303.4 L2061.7 304.1 L2063.1 304.8 L2064.5 305.5 L2065.9 306.2 L2067.4 306.9 L2068.8 307.5 L2070.3 308.2 L2071.7 308.9 L2073.1 309.6 L2074.5 310.3 L2076.0 311.0 L2077.4 311.6 L2078.8 312.2 L2080.2 312.7 L2081.6 313.1 L2083.0 313.4 L2084.4 313.6 L2085.8 313.7 L2087.2 313.6 L2088.6 313.4 L2090.0 313.1 L2091.3 312.7 L2092.7 312.2 L2094.0 311.5 L2095.3 310.8 L2096.6 310.1 L2097.9 309.2 L2099.1 308.3 L2100.2 307.3 L2101.3 306.3 L2102.4 305.3 L2103.5 304.2 L2104.5 303.1 L2105.5 301.9 L2106.5 300.7 L2107.4 299.5 L2108.3 298.3 L2109.2 297.0 L2110.1 295.7 L2111.0 294.5 L2111.8 293.2 L2112.6 291.9 L2113.5 290.6 L2114.3 289.3 L2115.1 288.0 L2115.8 286.7 L2116.6 285.4 L2117.4 284.1 L2118.1 282.8 L2118.9 281.4 L2119.6 280.1 L2120.3 278.8 L2121.0 277.5 L2121.7 276.1 L2122.4 274.8 L2123.1 273.4 L2123.7 272.1 L2124.4 270.7 L2125.1 269.4 L2125.7 268.0 L2126.4 266.7 L2127.0 265.3 L2127.6 264.0 L2128.2 262.6 L2128.9 261.3 L2129.5 259.9 L2130.1 258.5 L2130.7 257.2 L2131.3 255.8 L2131.9 254.4 L2132.5 253.0 L2133.1 251.7 L2133.7 250.3 L2134.3 248.9 L2134.8 247.6 L2135.4 246.2 L2136.0 244.8 L2136.6 243.4 L2137.2 242.1 L2137.8 240.7 L2138.3 239.3 L2138.9 237.9 L2139.5 236.5 L2140.1 235.2 L2140.7 233.8 L2141.3 232.4 L2141.9 231.0 L2142.5 229.7 L2143.1 228.3 L2143.7 226.9 L2144.3 225.6 L2144.9 224.2 L2145.5 222.8 L2146.1 221.5 L2146.8 220.1 L2147.4 218.7 L2148.0 217.4 L2148.7 216.0 L2149.4 214.7 L2150.0 213.3 L2150.7 211.9 L2151.4 210.6 L2152.1 209.2 L2152.8 207.9 L2153.5 206.6 L2154.2 205.2 L2154.9 203.9 L2155.6 202.5 L2156.3 201.2 L2157.0 199.9 L2157.7 198.5 L2158.4 197.2 L2159.1 195.9 L2159.7 194.5 L2160.4 193.2 L2161.0 191.8 L2161.6 190.5 L2162.2 189.1 L2162.8 187.7 L2163.3 186.4 L2163.8 185.0 L2164.3 183.6 L2164.9 182.2 L2165.4 180.9 L2165.9 179.5 L2166.4 178.1 L2166.9 176.7 L2167.5 175.3 L2168.1 173.9 L2168.7 172.5 L2169.3 171.1 L2169.9 169.7 L2170.6 168.3 L2171.4 166.9 L2172.1 165.5 L2173.0 164.1 L2173.8 162.8 L2174.7 161.5 L2175.7 160.3 L2176.7 159.1 L2177.7 158.0 L2178.8 156.9 L2180.0 155.9 L2181.1 155.1 L2182.4 154.3 L2183.6 153.6 L2184.9 153.0 L2186.3 152.5 L2187.6 152.1 L2189.0 151.8 L2190.4 151.6 L2191.9 151.6 L2193.3 151.6 L2194.8 151.8 L2196.3 152.1 L2197.7 152.4 L2199.2 152.7 L2200.7 153.0 L2202.3 153.3 L2203.8 153.6 L2205.3 153.8 L2206.8 154.0 L2208.3 154.1 L2209.7 154.1 L2211.2 154.1 L2212.6 153.9 L2214.0 153.7 L2215.4 153.4 L2216.8 152.9 L2218.1 152.4 L2219.3 151.7 L2220.5 150.9 L2221.7 149.9 L2222.8 148.9 L2223.9 147.8 L2225.0 146.6 L2226.0 145.3 L2226.9 144.1 L2227.9 142.8 L2228.8 141.5 L2229.6 140.2 L2230.5 138.9 L2231.3 137.6 L2232.1 136.3 L2233.0 135.0 L2233.8 133.8 L2234.6 132.5 L2235.5 131.3 L2236.3 130.1 L2237.2 128.9 L2238.1 127.8 L2239.0 126.7 L2240.0 125.6"/>
<path stroke="#0000ff" d="M2239.8 125.4 L2239.7 127.0 L2239.6 128.5 L2239.5 130.0 L2239.3 131.5 L2239.2 133.0 L2239.0 134.5 L2238.9 136.0 L2238.7 137.5 L2238.5 139.0 L2238.4 140.5 L2238.2 142.0 L2238.0 143.5 L2237.8 145.0 L2237.6 146.4 L2237.4 147.9 L2237.1 149.4 L2236.9 150.9 L2236.7 152.4 L2236.4 153.8 L2236.2 155.3 L2236.0 156.8 L2235.7 158.3 L2235.5 159.7 L2235.2 161.2 L2234.9 162.7 L2234.7 164.2 L2234.4 165.6 L2234.1 167.1 L2233.9 168.6 L2233.6 170.1 L2233.3 171.5 L2233.0 173.0 L2232.7 174.5 L2232.5 175.9 L2232.2 177.4 L2231.9 178.9 L2231.6 180.4 L2231.3 181.8 L2231.0 183.3 L2230.7 184.8 L2230.4 186.3 L2230.1 187.7 L2229.8 189.2 L2229.5 190.7 L2229.2 192.2 L2228.9 193.7 L2228.6 195.2 L2228.3 196.6 L2228.0 198.1 L2227.7 199.6 L2227.4 201.1 L2227.1 202.6 L2226.7 204.0 L2226.4 205.5 L2226.1 207.0 L2225.7 208.5 L2225.3 209.9 L2225.0 211.4 L2224.6 212.8 L2224.2 214.3 L2223.8 215.7 L2223.3 217.2 L2222.9 218.6 L2222.4 220.0 L2221.9 221.4 L2221.4 222.8 L2220.9 224.3 L2220.4 225.6 L2219.8 227.0 L2219.3 228.4 L2218.7 229.8 L2218.1 231.1 L2217.4 232.5 L2216.7 233.8 L2216.1 235.1 L2215.4 236.5 L2214.6 237.8 L2213.9 239.1 L2213.1 240.4 L2212.3 241.6 L2211.5 242.9 L2210.7 244.2 L2209.9 245.4 L2209.1 246.6 L2208.2 247.9 L2207.3 249.1 L2206.4 250.3 L2205.5 251.5 L2204.6 252.7 L2203.7 253.9 L2202.7 255.1 L2201.8 256.2 L2200.8 257.4 L2199.8 258.6 L2198.8 259.7 L2197.8 260.8 L2196.8 262.0 L2195.8 263.1 L2194.8 264.2 L2193.8 265.3 L2192.8 266.4 L2191.8 267.5 L2190.8 268.7 L2189.8 269.8 L2188.8 270.9 L2187.8 272.1 L2186.9 273.2 L2185.9 274.4 L2185.0 275.6 L2184.2 276.7 L2183.3 278.0 L2182.5 279.2 L2181.7 280.4 L2180.9 281.7 L2180.1 283.0 L2179.4 284.3 L2178.7 285.7 L2178.1 287.0 L2177.4 288.4 L2176.8 289.7 L2176.2 291.1 L2175.6 292.5 L2175.1 293.9 L2174.5 295.3 L2174.0 296.7 L2173.4 298.2 L2172.9 299.6 L2172.4 301.0 L2171.8 302.4 L2171.3 303.9 L2170.8 305.3 L2170.3 306.7 L2169.8 308.1 L2169.3 309.6 L2168.8 311.0 L2168.3 312.4 L2167.8 313.8 L2167.3 315.3 L2166.8 316.7 L2166.3 318.1 L2165.8 319.5 L2165.4 321.0 L2164.9 322.4 L2164.4 323.8 L2163.9 325.2 L2163.5 326.7 L2163.0 328.1 L2162.5 329.5 L2162.0 330.9 L2161.6 332.3 L2161.1 333.8 L2160.6 335.2 L2160.1 336.6 L2159.7 338.0 L2159.2 339.5 L2158.7 340.9 L2158.2 342.3 L2157.8 343.7 L2157.3 345.1 L2156.8 346.5 L2156.3 348.0 L2155.8 349.4 L2155.4 350.8 L2154.9 352.2 L2154.4 353.6 L2153.9 355.0 L2153.4 356.4 L2152.9 357.8 L2152.4 359.2 L2151.9 360.7 L2151.4 362.1 L2150.8 363.5 L2150.3 364.9 L2149.8 366.3 L2149.3 367.7 L2148.7 369.1 L2148.2 370.5 L2147.7 371.8 L2147.1 373.2 L2146.6 374.6 L2146.0 376.0 L2145.4 377.4 L2144.9 378.8 L2144.3 380.2 L2143.7 381.6 L2143.1 382.9 L2142.5 384.3 L2141.9 385.7 L2141.3 387.1 L2140.7 388.4 L2140.0 389.8 L2139.4 391.2 L2138.7 392.5 L2138.1 393.9 L2137.4 395.3 L2136.7 396.6 L2136.1 398.0 L2135.4 399.3 L2134.7 400.7 L2134.0 402.0 L2133.2 403.4 L2132.5 404.7 L2131.8 406.1 L2131.0 407.4 L2130.3 408.7 L2129.5 410.1 L2128.7 411.4 L2127.9 412.7 L2127.0 413.9 L2126.1 415.2 L2125.2 416.3 L2124.2 417.5 L2123.1 418.5 L2122.0 419.5 L2120.8 420.3 L2119.5 421.1 L2118.1 421.8 L2116.8 422.3 L2115.3 422.7 L2113.9 423.0 L2112.5 423.1 L2111.1 423.1 L2109.7 422.8 L2108.3 422.5 L2107.0 421.9 L2105.8 421.3 L2104.6 420.5 L2103.4 419.6 L2102.4 418.7 L2101.4 417.6 L2100.4 416.5 L2099.5 415.3 L2098.7 414.0 L2097.9 412.7 L2097.1 411.3 L2096.4 410.0 L2095.7 408.5 L2095.0 407.1 L2094.2 405.7 L2093.5 404.2 L2092.8 402.8 L2092.1 401.3 L2091.4 399.9 L2090.6 398.6 L2089.8 397.2 L2089.0 395.9 L2088.1 394.7 L2087.2 393.5 L2086.3 392.3 L2085.4 391.1 L2084.4 389.9 L2083.4 388.8 L2082.4 387.7 L2081.4 386.6 L2080.4 385.6 L2079.3 384.5 L2078.3 383.5 L2077.2 382.4 L2076.1 381.4 L2075.1 380.4 L2074.0 379.3 L2072.9 378.3 L2071.8 377.3 L2070.7 376.3 L2069.6 375.3 L2068.5 374.3 L2067.4 373.3 L2066.2 372.4 L2065.0 371.4 L2063.8 370.5 L2062.6 369.7 L2061.4 368.8 L2060.1 368.0 L2058.7 367.2 L2057.4 366.5 L2056.0 365.8 L2054.6 365.2 L2053.1 364.6 L2051.6 364.0 L2050.1 363.5 L2048.6 363.1 L2047.1 362.7 L2045.6 362.4 L2044.0 362.2 L2042.5 362.0 L2041.0 361.9 L2039.5 361.9 L2038.0 361.9 L2036.5 362.1 L2035.1 362.3 L2033.6 362.6 L2032.3 363.0 L2030.9 363.5 L2029.6 364.1 L2028.3 364.8 L2027.1 365.6 L2025.9 366.4 L2024.8 367.3 L2023.7 368.3 L2022.6 369.3 L2021.5 370.4 L2020.5 371.5 L2019.5 372.7 L2018.6 373.9 L2017.6 375.1 L2016.8 376.3 L2015.9 377.6 L2015.0 378.9 L2014.2 380.2 L2013.5 381.5 L2012.7 382.8 L2012.0 384.1 L2011.2 385.4 L2010.5 386.8 L2009.9 388.1 L2009.2 389.5 L2008.6 390.9 L2008.0 392.2 L2007.4 393.6 L2006.8 395.0 L2006.2 396.4 L2005.6 397.8 L2005.1 399.2 L2004.5 400.6 L2004.0 402.0 L2003.5 403.5 L2003.0 404.9 L2002.5 406.3 L2002.0 407.7 L2001.5 409.1 L2001.0 410.6 L2000.5 412.0 L2000.0 413.4 L1999.5 414.8 L1999.0 416.2 L1998.5 417.6 L1998.0 419.1 L1997.6 420.5 L1997.1 421.9 L1996.6 423.3 L1996.1 424.7 L1995.5 426.1 L1995.0 427.4 L1994.5 428.8 L1994.0 430.2 L1993.5 431.6 L1992.9 433.0 L1992.4 434.4 L1991.8 435.8 L1991.3 437.1 L1990.7 438.5 L1990.1 439.9 L1989.5 441.3 L1988.9 442.6 L1988.3 444.0 L1987.7 445.4 L1987.1 446.8 L1986.4 448.1 L1985.8 449.5 L1985.1 450.9 L1984.4 452.2 L1983.7 453.6 L1983.0 455.0 L1982.3 456.3 L1981.6 457.7 L1980.8 459.0 L1980.0 460.4 L1979.2 461.8 L1978.4 463.1 L1977.6 464.5 L1976.8 465.8 L1975.9 467.1 L1975.0 468.4 L1974.0 469.6 L1973.1 470.7 L1972.0 471.7 L1971.0 472.6 L1969.8 473.4 L1968.6 474.0 L1967.4 474.5 L1966.1 474.9 L1964.8 475.0 L1963.4 475.0 L1962.0 474.9 L1960.6 474.6 L1959.2 474.2 L1957.8 473.7 L1956.4 473.1 L1955.0 472.4 L1953.6 471.7 L1952.2 470.9 L1950.8 470.1 L1949.4 469.4 L1948.0 468.6 L1946.6 467.9 L1945.2 467.2 L1943.8 466.5 L1942.4 465.9 L1941.0 465.2 L1939.6 464.6 L1938.2 464.0 L1936.8 463.4 L1935.4 462.8 L1934.0 462.3 L1932.6 461.8 L1931.2 461.3 L1929.7 460.8 L1928.3 460.3 L1926.9 459.8 L1925.5 459.4 L1924.1 458.9 L1922.6 458.5 L1921.2 458.1 L1919.8 457.8 L1918.4 457.4 L1916.9 457.1 L1915.5 456.7 L1914.0 456.4 L1912.6 456.1 L1911.1 455.8 L1909.7 455.5 L1908.2 455.3 L1906.8 455.0 L1905.3 454.8 L1903.8 454.6 L1902.4 454.4 L1900.9 454.2 L1899.4 454.0 L1898.0 453.8 L1896.5 453.6 L1895.0 453.5 L1893.5 453.3 L1892.1 453.2 L1890.6 453.1 L1889.1 453.0 L1887.6 452.8 L1886.1 452.7 L1884.6 452.7 L1883.1 452.6 L1881.6 452.5 L1880.1 452.4 L1878.6 452.4 L1877.2 452.3 L1875.7 452.3 L1874.2 452.2 L1872.7 452.2 L1871.1 452.2 L1869.6 452.1 L1868.1 452.1 L1866.6 452.1 L1865.1 452.1 L1863.6 452.1 L1862.1 452.1 L1860.6 452.1 L1859.1 452.1 L1857.6 452.1 L1856.1 452.1 L1854.6 452.1 L1853.1 452.1 L1851.6 452.1 L1850.0 452.1 L1848.5 452.2 L1847.0 452.2 L1845.5 452.2 L1844.0 452.2 L1842.5 452.2 L1841.0 452.2 L1839.5 452.2 L1838.0 452.2 L1836.5 452.3 L1835.0 452.3 L1833.4 452.3 L1831.9 452.3 L1830.4 452.3 L1828.9 452.3 L1827.4 452.3 L1825.9 452.3 L1824.4 452.4 L1822.9 452.4 L1821.4 452.4 L1819.9 452.4 L1818.4 452.4 L1816.9 452.4 L1815.3 452.4 L1813.8 452.4 L1812.3 452.5 L1810.8 452.5 L1809.3 452.5 L1807.8 452.5 L1806.3 452.5 L1804.8 452.5 L1803.3 452.5 L1801.8 452.5 L1800.3 452.6 L1798.8 452.6 L1797.3 452.6 L1795.8 452.6 L1794.3 452.6 L1792.7 452.6 L1791.2 452.6 L1789.7 452.6 L1788.2 452.7 L1786.7 452.7 L1785.2 452.7 L1783.7 452.7 L1782.2 452.7 L1780.7 452.7 L1779.2 452.7 L1777.7 452.7 L1776.2 452.7 L1774.7 452.8 L1773.2 452.8 L1771.7 452.8 L1770.2 452.8 L1768.7 452.8 L1767.2 452.8 L1765.6 452.8 L1764.1 452.8 L1762.6 452.9 L1761.1 452.9 L1759.6 452.9 L1758.1 452.9 L1756.6 452.9 L1755.1 452.9 L1753.6 452.9 L1752.1 452.9 L1750.6 452.9 L1749.1 453.0 L1747.6 453.0 L1746.1 453.0 L1744.6 453.0 L1743.1 453.0 L1741.6 453.0 L1740.1 453.0 L1738.6 453.0 L1737.1 453.0 L1735.6 453.1 L1734.1 453.1 L1732.6 453.1 L1731.1 453.1 L1729.5 453.1 L1728.0 453.1 L1726.5 453.1 L1725.0 453.1 L1723.5 453.1 L1722.0 453.1 L1720.5 453.2 L1719.0 453.2 L1717.5 453.2 L1716.0 453.2 L1714.5 453.2 L1713.0 453.2 L1711.5 453.2 L1710.0 453.2 L1708.5 453.2 L1707.0 453.3 L1705.5 453.3 L1704.0 453.3 L1702.5 453.3 L1701.0 453.3 L1699.5 453.3 L1698.0 453.3 L1696.5 453.3 L1695.0 453.3 L1693.5 453.4 L1692.0 453.4 L1690.5 453.4 L1689.0 453.4 L1687.5 453.4 L1686.0 453.4 L1684.5 453.4 L1683.0 453.4 L1681.5 453.4 L1680.0 453.4 L1678.5 453.5 L1677.0 453.5 L1675.5 453.5 L1674.0 453.5 L1672.5 453.5 L1671.0 453.5 L1669.5 453.5 L1667.9 453.5 L1666.4 453.5 L1664.9 453.5 L1663.4 453.6 L1661.9 453.6 L1660.4 453.6 L1658.9 453.6 L1657.4 453.6 L1655.9 453.6 L1654.4 453.6 L1652.9 453.6 L1651.4 453.6 L1649.9 453.6 L1648.4 453.7 L1646.9 453.7 L1645.4 453.7 L1643.9 453.7 L1642.4 453.7 L1640.9 453.7 L1639.4 453.7 L1637.9 453.7 L1636.4 453.7 L1634.9 453.7 L1633.4 453.7 L1631.9 453.8 L1630.4 453.8 L1628.9 453.8 L1627.4 453.8 L1625.9 453.8 L1624.4 453.8 L1622.9 453.8 L1621.4 453.8 L1619.9 453.8 L1618.4 453.8 L1616.9 453.8 L1615.4 453.9 L1613.9 453.9 L1612.4 453.9 L1610.9 453.9 L1609.4 453.9 L1607.9 453.9 L1606.4 453.9 L1604.9 453.9 L1603.4 453.9 L1601.9 453.9 L1600.4 453.9 L1598.9 454.0 L1597.4 454.0 L1595.9 454.0 L1594.4 454.0 L1592.9 454.0 L1591.4 454.0 L1589.9 454.0 L1588.4 454.0 L1586.9 454.0 L1585.4 454.0 L1583.9 454.0 L1582.4 454.1 L1580.9 454.1 L1579.4 454.1 L1577.9 454.1 L1576.4 454.1 L1574.9 454.1 L1573.4 454.1 L1571.9 454.1 L1570.4 454.1 L1568.9 454.1 L1567.4 454.1 L1565.9 454.1 L1564.4 454.2 L1562.9 454.2 L1561.4 454.2 L1559.9 454.2 L1558.4 454.2 L1556.9 454.2 L1555.4 454.2 L1553.9 454.2 L1552.4 454.2 L1550.9 454.2 L1549.3 454.2 L1547.8 454.3 L1546.3 454.3 L1544.8 454.3 L1543.3 454.3 L1541.8 454.3 L1540.3 454.3 L1538.8 454.3 L1537.3 454.3 L1535.8 454.3 L1534.3 454.3 L1532.8 454.3 L1531.3 454.3 L1529.8 454.3 L1528.3 454.4 L1526.8 454.4 L1525.3 454.4 L1523.8 454.4 L1522.3 454.4 L1520.8 454.4 L1519.3 454.4 L1517.8 454.4 L1516.3 454.4 L1514.8 454.4 L1513.3 454.4 L1511.8 454.4 L1510.3 454.5 L1508.8 454.5 L1507.3 454.5 L1505.8 454.5 L1504.3 454.5 L1502.8 454.5 L1501.3 454.5 L1499.8 454.5 L1498.3 454.5 L1496.8 454.5 L1495.3 454.5 L1493.8 454.5 L1492.3 454.5 L1490.8 454.6 L1489.3 454.6 L1487.8 454.6 L1486.3 454.6 L1484.8 454.6 L1483.3 454.6 L1481.7 454.6 L1480.2 454.6 L1478.7 454.6 L1477.2 454.6 L1475.7 454.6 L1474.2 454.6 L1472.7 454.6 L1471.2 454.7 L1469.7 454.7 L1468.2 454.7 L1466.7 454.7 L1465.2 454.7 L1463.7 454.7 L1462.2 454.7 L1460.7 454.7 L1459.2 454.7 L1457.7 454.7 L1456.2 454.7 L1454.7 454.7 L1453.2 454.7 L1451.7 454.7 L1450.2 454.8 L1448.7 454.8 L1447.2 454.8 L1445.7 454.8 L1444.2 454.8 L1442.6 454.8 L1441.1 454.8 L1439.6 454.8 L1438.1 454.8 L1436.6 454.8 L1435.1 454.8 L1433.6 454.8 L1432.1 454.8 L1430.6 454.8 L1429.1 454.9 L1427.6 454.9 L1426.1 454.9 L1424.6 454.9 L1423.1 454.9 L1421.6 454.9 L1420.1 454.9 L1418.6 454.9 L1417.1 454.9 L1415.6 454.9 L1414.0 454.9 L1412.5 454.9 L1411.0 454.9 L1409.5 454.9 L1408.0 454.9 L1406.5 455.0 L1405.0 455.0 L1403.5 455.0 L1402.0 455.0 L1400.5 455.0 L1399.0 455.0 L1397.5 455.0 L1396.0 455.0"/>
</g>
</svg>
</body></html>
